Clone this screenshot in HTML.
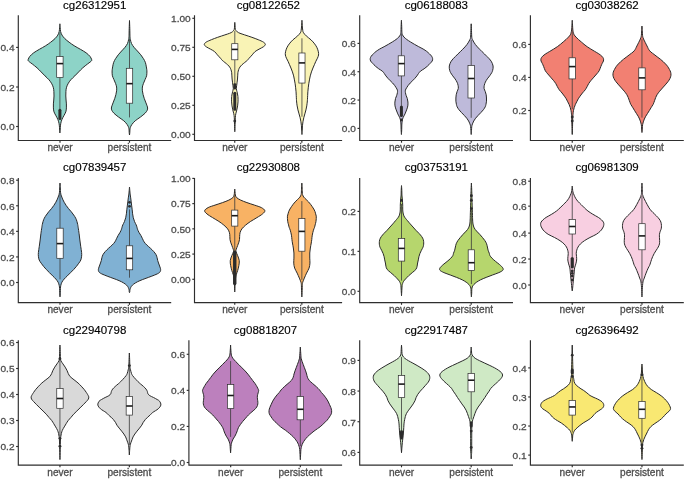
<!DOCTYPE html><html><head><meta charset="utf-8"><style>html,body{margin:0;padding:0;background:#fff;}svg{display:block;}text{font-family:"Liberation Sans",sans-serif;}svg{will-change:transform;}</style></head><body>
<svg xmlns="http://www.w3.org/2000/svg" width="685" height="479" viewBox="0 0 685 479">
<rect width="685" height="479" fill="#fff"/>
<g><path d="M59.90,23.80 C59.85,24.44 59.72,26.37 59.60,27.65 C59.48,28.93 59.50,30.26 59.20,31.50 C58.90,32.74 58.50,33.92 57.80,35.10 C57.10,36.28 56.18,37.42 55.00,38.60 C53.82,39.78 52.25,41.02 50.70,42.20 C49.15,43.38 47.58,44.52 45.70,45.70 C43.82,46.88 41.40,48.12 39.40,49.30 C37.40,50.48 35.30,51.62 33.70,52.80 C32.10,53.98 30.70,55.33 29.80,56.40 C28.90,57.47 28.58,58.52 28.30,59.20 C28.02,59.88 27.88,60.03 28.10,60.50 C28.32,60.97 28.90,61.42 29.60,62.00 C30.30,62.58 31.05,63.02 32.30,64.00 C33.55,64.98 35.63,66.58 37.10,67.90 C38.57,69.22 39.78,70.57 41.10,71.90 C42.42,73.23 43.68,74.58 45.00,75.90 C46.32,77.22 47.87,78.48 49.00,79.80 C50.13,81.12 51.07,82.47 51.80,83.80 C52.53,85.13 53.05,86.48 53.40,87.80 C53.75,89.12 53.80,90.33 53.90,91.70 C54.00,93.07 54.02,94.62 54.00,96.00 C53.97,97.38 53.85,98.68 53.75,100.00 C53.65,101.32 53.46,102.58 53.40,103.90 C53.34,105.22 53.30,106.57 53.40,107.90 C53.50,109.23 53.57,110.58 54.00,111.90 C54.43,113.22 55.33,114.48 56.00,115.80 C56.67,117.12 57.48,118.47 58.00,119.80 C58.52,121.13 58.85,122.48 59.10,123.80 C59.35,125.12 59.42,126.62 59.50,127.70 C59.58,128.78 59.53,129.43 59.60,130.30 C59.67,131.17 59.85,132.47 59.90,132.90 L59.90,132.90 C59.95,132.47 60.13,131.17 60.20,130.30 C60.27,129.43 60.22,128.78 60.30,127.70 C60.38,126.62 60.45,125.12 60.70,123.80 C60.95,122.48 61.28,121.13 61.80,119.80 C62.32,118.47 63.13,117.12 63.80,115.80 C64.47,114.48 65.37,113.22 65.80,111.90 C66.23,110.58 66.30,109.23 66.40,107.90 C66.50,106.57 66.46,105.22 66.40,103.90 C66.34,102.58 66.15,101.32 66.05,100.00 C65.95,98.68 65.82,97.38 65.80,96.00 C65.77,94.62 65.80,93.07 65.90,91.70 C66.00,90.33 66.05,89.12 66.40,87.80 C66.75,86.48 67.27,85.13 68.00,83.80 C68.73,82.47 69.67,81.12 70.80,79.80 C71.93,78.48 73.48,77.22 74.80,75.90 C76.12,74.58 77.38,73.23 78.70,71.90 C80.02,70.57 81.23,69.22 82.70,67.90 C84.17,66.58 86.25,64.98 87.50,64.00 C88.75,63.02 89.50,62.58 90.20,62.00 C90.90,61.42 91.48,60.97 91.70,60.50 C91.92,60.03 91.78,59.88 91.50,59.20 C91.22,58.52 90.90,57.47 90.00,56.40 C89.10,55.33 87.70,53.98 86.10,52.80 C84.50,51.62 82.40,50.48 80.40,49.30 C78.40,48.12 75.98,46.88 74.10,45.70 C72.22,44.52 70.65,43.38 69.10,42.20 C67.55,41.02 65.98,39.78 64.80,38.60 C63.62,37.42 62.70,36.28 62.00,35.10 C61.30,33.92 60.90,32.74 60.60,31.50 C60.30,30.26 60.32,28.93 60.20,27.65 C60.08,26.37 59.95,24.44 59.90,23.80 Z" fill="#8DD3C7" stroke="#2a2a2a" stroke-width="1.0" stroke-linejoin="round"/><path d="M129.50,20.50 C129.45,21.86 129.28,25.93 129.20,28.65 C129.12,31.37 129.11,34.94 129.00,36.80 C128.89,38.66 128.80,38.68 128.55,39.80 C128.30,40.92 128.09,42.25 127.50,43.50 C126.91,44.75 125.98,46.05 125.00,47.30 C124.02,48.55 122.72,49.75 121.60,51.00 C120.47,52.25 119.25,53.53 118.25,54.80 C117.25,56.07 116.36,57.35 115.60,58.60 C114.84,59.85 114.17,61.05 113.70,62.30 C113.23,63.55 113.05,64.85 112.80,66.10 C112.55,67.35 112.32,68.82 112.20,69.80 C112.08,70.78 112.07,71.00 112.10,72.00 C112.13,73.00 112.10,74.55 112.40,75.80 C112.70,77.05 113.38,78.25 113.90,79.50 C114.42,80.75 115.05,82.05 115.50,83.30 C115.95,84.55 116.42,85.75 116.60,87.00 C116.78,88.25 116.72,89.53 116.60,90.80 C116.48,92.07 116.20,93.35 115.90,94.60 C115.60,95.85 115.22,97.05 114.80,98.30 C114.38,99.55 113.82,100.85 113.35,102.10 C112.88,103.35 112.28,104.82 111.95,105.80 C111.62,106.78 111.43,107.25 111.40,108.00 C111.38,108.75 111.37,109.42 111.80,110.30 C112.23,111.18 112.88,112.18 114.00,113.30 C115.12,114.42 116.87,115.75 118.50,117.00 C120.13,118.25 122.35,119.53 123.80,120.80 C125.25,122.07 126.38,123.47 127.20,124.60 C128.02,125.73 128.38,126.70 128.70,127.60 C129.02,128.50 129.02,129.18 129.10,130.00 C129.18,130.82 129.13,131.67 129.20,132.50 C129.27,133.33 129.45,134.58 129.50,135.00 L129.50,135.00 C129.55,134.58 129.73,133.33 129.80,132.50 C129.87,131.67 129.82,130.82 129.90,130.00 C129.98,129.18 129.98,128.50 130.30,127.60 C130.62,126.70 130.98,125.73 131.80,124.60 C132.62,123.47 133.75,122.07 135.20,120.80 C136.65,119.53 138.87,118.25 140.50,117.00 C142.13,115.75 143.88,114.42 145.00,113.30 C146.12,112.18 146.77,111.18 147.20,110.30 C147.63,109.42 147.62,108.75 147.60,108.00 C147.57,107.25 147.38,106.78 147.05,105.80 C146.73,104.82 146.12,103.35 145.65,102.10 C145.18,100.85 144.62,99.55 144.20,98.30 C143.77,97.05 143.40,95.85 143.10,94.60 C142.80,93.35 142.52,92.07 142.40,90.80 C142.28,89.53 142.22,88.25 142.40,87.00 C142.58,85.75 143.05,84.55 143.50,83.30 C143.95,82.05 144.58,80.75 145.10,79.50 C145.62,78.25 146.30,77.05 146.60,75.80 C146.90,74.55 146.87,73.00 146.90,72.00 C146.93,71.00 146.92,70.78 146.80,69.80 C146.68,68.82 146.45,67.35 146.20,66.10 C145.95,64.85 145.77,63.55 145.30,62.30 C144.83,61.05 144.16,59.85 143.40,58.60 C142.64,57.35 141.75,56.07 140.75,54.80 C139.75,53.53 138.53,52.25 137.40,51.00 C136.28,49.75 134.98,48.55 134.00,47.30 C133.02,46.05 132.09,44.75 131.50,43.50 C130.91,42.25 130.70,40.92 130.45,39.80 C130.20,38.68 130.11,38.66 130.00,36.80 C129.89,34.94 129.88,31.37 129.80,28.65 C129.72,25.93 129.55,21.86 129.50,20.50 Z" fill="#8DD3C7" stroke="#2a2a2a" stroke-width="1.0" stroke-linejoin="round"/><line x1="59.90" y1="32.50" x2="59.90" y2="56.60" stroke="#3a3a3a" stroke-width="0.8"/><line x1="59.90" y1="77.50" x2="59.90" y2="109.00" stroke="#3a3a3a" stroke-width="0.8"/><rect x="56.70" y="56.60" width="6.39" height="20.90" fill="#fff" stroke="#2a2a2a" stroke-width="0.7"/><line x1="56.70" y1="63.60" x2="63.10" y2="63.60" stroke="#1a1a1a" stroke-width="1.6"/><line x1="59.90" y1="110.30" x2="59.90" y2="118.50" stroke="#2b2b2b" stroke-width="3.00" stroke-linecap="round"/><line x1="129.50" y1="38.70" x2="129.50" y2="68.30" stroke="#3a3a3a" stroke-width="0.8"/><line x1="129.50" y1="103.20" x2="129.50" y2="117.40" stroke="#3a3a3a" stroke-width="0.8"/><rect x="126.30" y="68.30" width="6.39" height="34.90" fill="#fff" stroke="#2a2a2a" stroke-width="0.7"/><line x1="126.30" y1="83.65" x2="132.70" y2="83.65" stroke="#1a1a1a" stroke-width="1.6"/><path d="M18.30,15.20 V140.50 H171.20" fill="none" stroke="#2e2e2e" stroke-width="1.15"/><line x1="16.10" y1="47.40" x2="18.30" y2="47.40" stroke="#2e2e2e" stroke-width="1.15"/><text transform="translate(14.50,51.20) scale(1,0.96)" font-size="10.1" fill="#4D4D4D" stroke="#4D4D4D" stroke-width="0.3" text-anchor="end">0.4</text><line x1="16.10" y1="87.00" x2="18.30" y2="87.00" stroke="#2e2e2e" stroke-width="1.15"/><text transform="translate(14.50,90.80) scale(1,0.96)" font-size="10.1" fill="#4D4D4D" stroke="#4D4D4D" stroke-width="0.3" text-anchor="end">0.2</text><line x1="16.10" y1="126.50" x2="18.30" y2="126.50" stroke="#2e2e2e" stroke-width="1.15"/><text transform="translate(14.50,130.30) scale(1,0.96)" font-size="10.1" fill="#4D4D4D" stroke="#4D4D4D" stroke-width="0.3" text-anchor="end">0.0</text><line x1="60.00" y1="140.50" x2="60.00" y2="142.70" stroke="#2e2e2e" stroke-width="1.15"/><text x="60.00" y="151.20" font-size="10.1" fill="#4D4D4D" stroke="#4D4D4D" stroke-width="0.3" text-anchor="middle">never</text><line x1="129.50" y1="140.50" x2="129.50" y2="142.70" stroke="#2e2e2e" stroke-width="1.15"/><text x="129.50" y="151.20" font-size="10.1" fill="#4D4D4D" stroke="#4D4D4D" stroke-width="0.3" text-anchor="middle">persistent</text><text x="94.75" y="8.90" font-size="11.5" fill="#000" stroke="#000" stroke-width="0.15" text-anchor="middle">cg26312951</text></g>
<g><path d="M234.80,22.40 C234.75,22.98 234.60,24.73 234.50,25.90 C234.41,27.07 234.60,28.42 234.25,29.40 C233.90,30.38 233.18,31.15 232.40,31.80 C231.63,32.45 230.85,32.78 229.60,33.30 C228.35,33.82 226.89,34.23 224.90,34.90 C222.92,35.57 219.95,36.50 217.70,37.30 C215.45,38.10 213.32,38.90 211.40,39.70 C209.49,40.50 207.40,41.30 206.20,42.10 C205.01,42.90 204.25,43.72 204.25,44.50 C204.26,45.28 205.20,46.02 206.25,46.80 C207.31,47.58 209.22,48.40 210.60,49.20 C211.99,50.00 213.43,50.67 214.55,51.60 C215.68,52.53 216.30,53.62 217.35,54.80 C218.41,55.98 220.10,57.78 220.90,58.70 C221.71,59.62 221.54,59.67 222.20,60.30 C222.87,60.93 223.99,61.75 224.90,62.50 C225.82,63.25 226.90,64.03 227.70,64.80 C228.50,65.57 229.17,66.32 229.70,67.10 C230.24,67.88 230.57,68.57 230.90,69.50 C231.24,70.43 231.54,71.63 231.70,72.70 C231.87,73.77 231.84,74.85 231.90,75.90 C231.97,76.95 232.00,77.95 232.10,79.00 C232.20,80.05 232.37,81.13 232.50,82.20 C232.64,83.27 232.77,84.33 232.90,85.40 C233.04,86.47 233.35,87.55 233.30,88.60 C233.25,89.65 232.84,90.63 232.60,91.70 C232.37,92.77 232.07,93.95 231.90,95.00 C231.74,96.05 231.65,96.85 231.60,98.00 C231.55,99.15 231.54,100.58 231.60,101.90 C231.67,103.22 231.80,104.57 232.00,105.90 C232.20,107.23 232.50,108.58 232.80,109.90 C233.10,111.22 233.55,112.48 233.80,113.80 C234.05,115.12 234.19,115.97 234.30,117.80 C234.42,119.62 234.42,122.43 234.50,124.75 C234.59,127.07 234.75,130.54 234.80,131.70 L234.80,131.70 C234.85,130.54 235.02,127.07 235.10,124.75 C235.19,122.43 235.19,119.62 235.30,117.80 C235.42,115.97 235.55,115.12 235.80,113.80 C236.05,112.48 236.50,111.22 236.80,109.90 C237.10,108.58 237.40,107.23 237.60,105.90 C237.80,104.57 237.94,103.22 238.00,101.90 C238.07,100.58 238.05,99.15 238.00,98.00 C237.95,96.85 237.87,96.05 237.70,95.00 C237.54,93.95 237.24,92.77 237.00,91.70 C236.77,90.63 236.35,89.65 236.30,88.60 C236.25,87.55 236.57,86.47 236.70,85.40 C236.84,84.33 236.97,83.27 237.10,82.20 C237.24,81.13 237.40,80.05 237.50,79.00 C237.60,77.95 237.64,76.95 237.70,75.90 C237.77,74.85 237.74,73.77 237.90,72.70 C238.07,71.63 238.37,70.43 238.70,69.50 C239.04,68.57 239.37,67.88 239.90,67.10 C240.44,66.32 241.10,65.57 241.90,64.80 C242.70,64.03 243.79,63.25 244.70,62.50 C245.62,61.75 246.74,60.93 247.40,60.30 C248.07,59.67 247.90,59.62 248.70,58.70 C249.51,57.78 251.20,55.98 252.25,54.80 C253.31,53.62 253.93,52.53 255.05,51.60 C256.18,50.67 257.62,50.00 259.00,49.20 C260.39,48.40 262.30,47.58 263.35,46.80 C264.41,46.02 265.35,45.28 265.35,44.50 C265.36,43.72 264.60,42.90 263.40,42.10 C262.21,41.30 260.12,40.50 258.20,39.70 C256.29,38.90 254.15,38.10 251.90,37.30 C249.65,36.50 246.69,35.57 244.70,34.90 C242.72,34.23 241.25,33.82 240.00,33.30 C238.75,32.78 237.98,32.45 237.20,31.80 C236.43,31.15 235.70,30.38 235.35,29.40 C235.00,28.42 235.20,27.07 235.10,25.90 C235.01,24.73 234.85,22.98 234.80,22.40 Z" fill="#F9F3B5" stroke="#2a2a2a" stroke-width="1.0" stroke-linejoin="round"/><path d="M301.95,20.30 C301.90,21.14 301.78,23.67 301.65,25.35 C301.51,27.03 301.36,29.16 301.15,30.40 C300.93,31.64 300.93,31.88 300.35,32.80 C299.76,33.72 298.90,34.72 297.65,35.90 C296.40,37.08 294.25,38.57 292.85,39.90 C291.45,41.23 290.25,42.58 289.25,43.90 C288.25,45.22 287.46,46.48 286.85,47.80 C286.23,49.12 285.80,50.60 285.55,51.80 C285.30,53.00 285.20,53.93 285.35,55.00 C285.50,56.07 286.00,57.15 286.45,58.20 C286.90,59.25 287.56,60.28 288.05,61.30 C288.53,62.32 288.86,63.18 289.35,64.30 C289.83,65.42 290.43,66.73 290.95,68.00 C291.46,69.27 292.00,70.58 292.45,71.90 C292.90,73.22 293.31,74.57 293.65,75.90 C293.98,77.23 294.20,78.58 294.45,79.90 C294.70,81.22 294.95,82.48 295.15,83.80 C295.35,85.12 295.50,86.47 295.65,87.80 C295.80,89.13 295.95,90.48 296.05,91.80 C296.15,93.12 296.18,94.38 296.25,95.70 C296.31,97.02 296.38,98.65 296.45,99.70 C296.51,100.75 296.53,100.97 296.65,102.00 C296.76,103.03 296.93,104.58 297.15,105.90 C297.36,107.22 297.63,108.57 297.95,109.90 C298.26,111.23 298.68,112.58 299.05,113.90 C299.41,115.22 299.83,116.48 300.15,117.80 C300.46,119.12 300.73,120.47 300.95,121.80 C301.16,123.13 301.33,124.41 301.45,125.80 C301.56,127.19 301.56,128.70 301.65,130.15 C301.73,131.60 301.90,133.78 301.95,134.50 L301.95,134.50 C302.00,133.78 302.16,131.60 302.25,130.15 C302.33,128.70 302.33,127.19 302.45,125.80 C302.56,124.41 302.73,123.13 302.95,121.80 C303.16,120.47 303.43,119.12 303.75,117.80 C304.06,116.48 304.48,115.22 304.85,113.90 C305.21,112.58 305.63,111.23 305.95,109.90 C306.26,108.57 306.53,107.22 306.75,105.90 C306.96,104.58 307.13,103.03 307.25,102.00 C307.36,100.97 307.38,100.75 307.45,99.70 C307.51,98.65 307.58,97.02 307.65,95.70 C307.71,94.38 307.75,93.12 307.85,91.80 C307.95,90.48 308.10,89.13 308.25,87.80 C308.40,86.47 308.55,85.12 308.75,83.80 C308.95,82.48 309.20,81.22 309.45,79.90 C309.70,78.58 309.91,77.23 310.25,75.90 C310.58,74.57 311.00,73.22 311.45,71.90 C311.90,70.58 312.43,69.27 312.95,68.00 C313.46,66.73 314.06,65.42 314.55,64.30 C315.03,63.18 315.36,62.32 315.85,61.30 C316.33,60.28 317.00,59.25 317.45,58.20 C317.90,57.15 318.40,56.07 318.55,55.00 C318.70,53.93 318.60,53.00 318.35,51.80 C318.10,50.60 317.66,49.12 317.05,47.80 C316.43,46.48 315.65,45.22 314.65,43.90 C313.65,42.58 312.45,41.23 311.05,39.90 C309.65,38.57 307.50,37.08 306.25,35.90 C305.00,34.72 304.13,33.72 303.55,32.80 C302.96,31.88 302.96,31.64 302.75,30.40 C302.53,29.16 302.38,27.03 302.25,25.35 C302.11,23.67 302.00,21.14 301.95,20.30 Z" fill="#F9F3B5" stroke="#2a2a2a" stroke-width="1.0" stroke-linejoin="round"/><line x1="234.80" y1="31.00" x2="234.80" y2="43.70" stroke="#3a3a3a" stroke-width="0.8"/><line x1="234.80" y1="59.80" x2="234.80" y2="83.00" stroke="#3a3a3a" stroke-width="0.8"/><rect x="231.72" y="43.70" width="6.17" height="16.10" fill="#fff" stroke="#2a2a2a" stroke-width="0.7"/><line x1="231.72" y1="49.40" x2="237.89" y2="49.40" stroke="#1a1a1a" stroke-width="1.6"/><line x1="234.80" y1="84.50" x2="234.80" y2="88.00" stroke="#2b2b2b" stroke-width="3.00" stroke-linecap="round"/><line x1="234.80" y1="93.30" x2="234.80" y2="109.30" stroke="#2b2b2b" stroke-width="3.00" stroke-linecap="round"/><circle cx="234.80" cy="121.10" r="1.4" fill="#2b2b2b"/><line x1="301.95" y1="38.30" x2="301.95" y2="53.00" stroke="#3a3a3a" stroke-width="0.8"/><line x1="301.95" y1="83.05" x2="301.95" y2="116.70" stroke="#3a3a3a" stroke-width="0.8"/><rect x="298.86" y="53.00" width="6.17" height="30.05" fill="#fff" stroke="#2a2a2a" stroke-width="0.7"/><line x1="298.86" y1="62.90" x2="305.03" y2="62.90" stroke="#1a1a1a" stroke-width="1.6"/><path d="M194.50,15.20 V140.50 H342.10" fill="none" stroke="#2e2e2e" stroke-width="1.15"/><line x1="192.30" y1="18.30" x2="194.50" y2="18.30" stroke="#2e2e2e" stroke-width="1.15"/><text transform="translate(190.70,22.10) scale(1,0.96)" font-size="10.1" fill="#4D4D4D" stroke="#4D4D4D" stroke-width="0.3" text-anchor="end">1.00</text><line x1="192.30" y1="47.30" x2="194.50" y2="47.30" stroke="#2e2e2e" stroke-width="1.15"/><text transform="translate(190.70,51.10) scale(1,0.96)" font-size="10.1" fill="#4D4D4D" stroke="#4D4D4D" stroke-width="0.3" text-anchor="end">0.75</text><line x1="192.30" y1="76.30" x2="194.50" y2="76.30" stroke="#2e2e2e" stroke-width="1.15"/><text transform="translate(190.70,80.10) scale(1,0.96)" font-size="10.1" fill="#4D4D4D" stroke="#4D4D4D" stroke-width="0.3" text-anchor="end">0.50</text><line x1="192.30" y1="105.30" x2="194.50" y2="105.30" stroke="#2e2e2e" stroke-width="1.15"/><text transform="translate(190.70,109.10) scale(1,0.96)" font-size="10.1" fill="#4D4D4D" stroke="#4D4D4D" stroke-width="0.3" text-anchor="end">0.25</text><line x1="192.30" y1="134.30" x2="194.50" y2="134.30" stroke="#2e2e2e" stroke-width="1.15"/><text transform="translate(190.70,138.10) scale(1,0.96)" font-size="10.1" fill="#4D4D4D" stroke="#4D4D4D" stroke-width="0.3" text-anchor="end">0.00</text><line x1="234.75" y1="140.50" x2="234.75" y2="142.70" stroke="#2e2e2e" stroke-width="1.15"/><text x="234.75" y="151.20" font-size="10.1" fill="#4D4D4D" stroke="#4D4D4D" stroke-width="0.3" text-anchor="middle">never</text><line x1="301.85" y1="140.50" x2="301.85" y2="142.70" stroke="#2e2e2e" stroke-width="1.15"/><text x="301.85" y="151.20" font-size="10.1" fill="#4D4D4D" stroke="#4D4D4D" stroke-width="0.3" text-anchor="middle">persistent</text><text x="268.30" y="8.90" font-size="11.5" fill="#000" stroke="#000" stroke-width="0.15" text-anchor="middle">cg08122652</text></g>
<g><path d="M401.41,20.30 C401.36,21.31 401.19,24.33 401.11,26.35 C401.03,28.37 401.04,30.99 400.91,32.40 C400.78,33.81 400.66,34.02 400.31,34.80 C399.96,35.58 399.53,36.32 398.81,37.10 C398.09,37.88 397.08,38.70 396.01,39.50 C394.94,40.30 393.68,41.10 392.41,41.90 C391.14,42.70 389.79,43.50 388.41,44.30 C387.03,45.10 385.56,45.92 384.11,46.70 C382.66,47.48 381.04,48.22 379.71,49.00 C378.38,49.78 377.16,50.60 376.11,51.40 C375.06,52.20 374.23,53.00 373.41,53.80 C372.59,54.60 371.74,55.40 371.21,56.20 C370.68,57.00 370.31,57.80 370.21,58.60 C370.11,59.40 370.21,60.22 370.61,61.00 C371.01,61.78 371.81,62.43 372.61,63.30 C373.41,64.17 374.39,65.28 375.41,66.20 C376.43,67.12 377.56,67.98 378.71,68.80 C379.86,69.62 381.38,70.32 382.31,71.10 C383.24,71.88 383.71,72.70 384.31,73.50 C384.91,74.30 385.31,75.10 385.91,75.90 C386.51,76.70 387.19,77.50 387.91,78.30 C388.63,79.10 389.43,79.92 390.21,80.70 C390.99,81.48 391.88,82.22 392.61,83.00 C393.34,83.78 394.01,84.60 394.61,85.40 C395.21,86.20 395.74,87.00 396.21,87.80 C396.68,88.60 397.21,89.40 397.41,90.20 C397.61,91.00 397.54,91.68 397.41,92.60 C397.28,93.52 396.93,94.72 396.61,95.70 C396.29,96.68 395.79,97.45 395.51,98.50 C395.23,99.55 394.99,100.77 394.91,102.00 C394.83,103.23 394.79,104.58 395.01,105.90 C395.23,107.22 395.74,108.57 396.21,109.90 C396.68,111.23 397.21,112.58 397.81,113.90 C398.41,115.22 399.34,116.62 399.81,117.80 C400.28,118.98 400.41,119.80 400.61,121.00 C400.81,122.20 400.93,123.54 401.01,125.00 C401.09,126.46 401.04,128.17 401.11,129.75 C401.18,131.33 401.36,133.71 401.41,134.50 L401.41,134.50 C401.46,133.71 401.64,131.33 401.71,129.75 C401.78,128.17 401.73,126.46 401.81,125.00 C401.89,123.54 402.01,122.20 402.21,121.00 C402.41,119.80 402.54,118.98 403.01,117.80 C403.48,116.62 404.41,115.22 405.01,113.90 C405.61,112.58 406.14,111.23 406.61,109.90 C407.08,108.57 407.59,107.22 407.81,105.90 C408.03,104.58 407.99,103.23 407.91,102.00 C407.83,100.77 407.59,99.55 407.31,98.50 C407.03,97.45 406.53,96.68 406.21,95.70 C405.89,94.72 405.54,93.52 405.41,92.60 C405.28,91.68 405.21,91.00 405.41,90.20 C405.61,89.40 406.14,88.60 406.61,87.80 C407.08,87.00 407.61,86.20 408.21,85.40 C408.81,84.60 409.48,83.78 410.21,83.00 C410.94,82.22 411.83,81.48 412.61,80.70 C413.39,79.92 414.19,79.10 414.91,78.30 C415.63,77.50 416.31,76.70 416.91,75.90 C417.51,75.10 417.91,74.30 418.51,73.50 C419.11,72.70 419.58,71.88 420.51,71.10 C421.44,70.32 422.96,69.62 424.11,68.80 C425.26,67.98 426.39,67.12 427.41,66.20 C428.43,65.28 429.41,64.17 430.21,63.30 C431.01,62.43 431.81,61.78 432.21,61.00 C432.61,60.22 432.71,59.40 432.61,58.60 C432.51,57.80 432.14,57.00 431.61,56.20 C431.08,55.40 430.23,54.60 429.41,53.80 C428.59,53.00 427.76,52.20 426.71,51.40 C425.66,50.60 424.44,49.78 423.11,49.00 C421.78,48.22 420.16,47.48 418.71,46.70 C417.26,45.92 415.79,45.10 414.41,44.30 C413.03,43.50 411.68,42.70 410.41,41.90 C409.14,41.10 407.88,40.30 406.81,39.50 C405.74,38.70 404.73,37.88 404.01,37.10 C403.29,36.32 402.86,35.58 402.51,34.80 C402.16,34.02 402.04,33.81 401.91,32.40 C401.78,30.99 401.79,28.37 401.71,26.35 C401.63,24.33 401.46,21.31 401.41,20.30 Z" fill="#BEBADA" stroke="#2a2a2a" stroke-width="1.0" stroke-linejoin="round"/><path d="M471.19,23.80 C471.14,24.93 470.99,28.33 470.89,30.60 C470.79,32.87 470.77,35.87 470.59,37.40 C470.41,38.93 470.12,39.02 469.79,39.80 C469.46,40.58 469.06,41.32 468.59,42.10 C468.12,42.88 467.59,43.70 466.99,44.50 C466.39,45.30 465.71,46.10 464.99,46.90 C464.27,47.70 463.47,48.50 462.69,49.30 C461.91,50.10 461.09,50.92 460.29,51.70 C459.49,52.48 458.69,53.22 457.89,54.00 C457.09,54.78 456.29,55.60 455.49,56.40 C454.69,57.20 453.81,58.00 453.09,58.80 C452.37,59.60 451.71,60.40 451.19,61.20 C450.67,62.00 450.31,62.80 449.99,63.60 C449.67,64.40 449.41,65.22 449.29,66.00 C449.17,66.78 449.21,67.52 449.29,68.30 C449.37,69.08 449.57,69.98 449.79,70.70 C450.01,71.42 450.11,71.75 450.59,72.60 C451.07,73.45 451.94,74.75 452.69,75.80 C453.44,76.85 454.37,77.85 455.09,78.90 C455.81,79.95 456.49,81.03 456.99,82.10 C457.49,83.17 457.87,84.23 458.09,85.30 C458.31,86.37 458.46,87.45 458.29,88.50 C458.12,89.55 457.44,90.55 457.09,91.60 C456.74,92.65 456.39,93.73 456.19,94.80 C455.99,95.87 455.94,96.93 455.89,98.00 C455.84,99.07 455.81,100.15 455.89,101.20 C455.97,102.25 456.18,103.37 456.39,104.30 C456.60,105.23 456.72,105.90 457.14,106.80 C457.57,107.70 458.22,108.75 458.94,109.70 C459.66,110.65 460.56,111.55 461.44,112.50 C462.32,113.45 463.36,114.45 464.24,115.40 C465.12,116.35 466.01,117.27 466.74,118.20 C467.47,119.13 468.11,120.05 468.64,121.00 C469.17,121.95 469.61,122.95 469.94,123.90 C470.27,124.85 470.48,125.58 470.64,126.70 C470.80,127.82 470.80,129.30 470.89,130.60 C470.98,131.90 471.14,133.85 471.19,134.50 L471.19,134.50 C471.24,133.85 471.40,131.90 471.49,130.60 C471.58,129.30 471.58,127.82 471.74,126.70 C471.90,125.58 472.11,124.85 472.44,123.90 C472.77,122.95 473.21,121.95 473.74,121.00 C474.27,120.05 474.91,119.13 475.64,118.20 C476.37,117.27 477.26,116.35 478.14,115.40 C479.02,114.45 480.06,113.45 480.94,112.50 C481.82,111.55 482.72,110.65 483.44,109.70 C484.16,108.75 484.82,107.70 485.24,106.80 C485.67,105.90 485.78,105.23 485.99,104.30 C486.20,103.37 486.41,102.25 486.49,101.20 C486.57,100.15 486.54,99.07 486.49,98.00 C486.44,96.93 486.39,95.87 486.19,94.80 C485.99,93.73 485.64,92.65 485.29,91.60 C484.94,90.55 484.26,89.55 484.09,88.50 C483.92,87.45 484.07,86.37 484.29,85.30 C484.51,84.23 484.89,83.17 485.39,82.10 C485.89,81.03 486.57,79.95 487.29,78.90 C488.01,77.85 488.94,76.85 489.69,75.80 C490.44,74.75 491.31,73.45 491.79,72.60 C492.27,71.75 492.37,71.42 492.59,70.70 C492.81,69.98 493.01,69.08 493.09,68.30 C493.17,67.52 493.21,66.78 493.09,66.00 C492.97,65.22 492.71,64.40 492.39,63.60 C492.07,62.80 491.71,62.00 491.19,61.20 C490.67,60.40 490.01,59.60 489.29,58.80 C488.57,58.00 487.69,57.20 486.89,56.40 C486.09,55.60 485.29,54.78 484.49,54.00 C483.69,53.22 482.89,52.48 482.09,51.70 C481.29,50.92 480.47,50.10 479.69,49.30 C478.91,48.50 478.11,47.70 477.39,46.90 C476.67,46.10 475.99,45.30 475.39,44.50 C474.79,43.70 474.26,42.88 473.79,42.10 C473.32,41.32 472.92,40.58 472.59,39.80 C472.26,39.02 471.97,38.93 471.79,37.40 C471.61,35.87 471.59,32.87 471.49,30.60 C471.39,28.33 471.24,24.93 471.19,23.80 Z" fill="#BEBADA" stroke="#2a2a2a" stroke-width="1.0" stroke-linejoin="round"/><line x1="401.41" y1="33.50" x2="401.41" y2="55.80" stroke="#3a3a3a" stroke-width="0.8"/><line x1="401.41" y1="75.90" x2="401.41" y2="105.90" stroke="#3a3a3a" stroke-width="0.8"/><rect x="398.20" y="55.80" width="6.41" height="20.10" fill="#fff" stroke="#2a2a2a" stroke-width="0.7"/><line x1="398.20" y1="63.60" x2="404.61" y2="63.60" stroke="#1a1a1a" stroke-width="1.6"/><line x1="401.41" y1="107.00" x2="401.41" y2="115.50" stroke="#2b2b2b" stroke-width="3.00" stroke-linecap="round"/><circle cx="401.41" cy="119.80" r="1.4" fill="#2b2b2b"/><line x1="471.19" y1="39.80" x2="471.19" y2="65.40" stroke="#3a3a3a" stroke-width="0.8"/><line x1="471.19" y1="98.00" x2="471.19" y2="117.80" stroke="#3a3a3a" stroke-width="0.8"/><rect x="467.99" y="65.40" width="6.41" height="32.60" fill="#fff" stroke="#2a2a2a" stroke-width="0.7"/><line x1="467.99" y1="78.50" x2="474.40" y2="78.50" stroke="#1a1a1a" stroke-width="1.6"/><path d="M359.70,15.20 V140.50 H513.00" fill="none" stroke="#2e2e2e" stroke-width="1.15"/><line x1="357.50" y1="43.40" x2="359.70" y2="43.40" stroke="#2e2e2e" stroke-width="1.15"/><text transform="translate(355.90,47.20) scale(1,0.96)" font-size="10.1" fill="#4D4D4D" stroke="#4D4D4D" stroke-width="0.3" text-anchor="end">0.6</text><line x1="357.50" y1="71.73" x2="359.70" y2="71.73" stroke="#2e2e2e" stroke-width="1.15"/><text transform="translate(355.90,75.53) scale(1,0.96)" font-size="10.1" fill="#4D4D4D" stroke="#4D4D4D" stroke-width="0.3" text-anchor="end">0.4</text><line x1="357.50" y1="100.07" x2="359.70" y2="100.07" stroke="#2e2e2e" stroke-width="1.15"/><text transform="translate(355.90,103.87) scale(1,0.96)" font-size="10.1" fill="#4D4D4D" stroke="#4D4D4D" stroke-width="0.3" text-anchor="end">0.2</text><line x1="357.50" y1="128.40" x2="359.70" y2="128.40" stroke="#2e2e2e" stroke-width="1.15"/><text transform="translate(355.90,132.20) scale(1,0.96)" font-size="10.1" fill="#4D4D4D" stroke="#4D4D4D" stroke-width="0.3" text-anchor="end">0.0</text><line x1="401.51" y1="140.50" x2="401.51" y2="142.70" stroke="#2e2e2e" stroke-width="1.15"/><text x="401.51" y="151.20" font-size="10.1" fill="#4D4D4D" stroke="#4D4D4D" stroke-width="0.3" text-anchor="middle">never</text><line x1="471.19" y1="140.50" x2="471.19" y2="142.70" stroke="#2e2e2e" stroke-width="1.15"/><text x="471.19" y="151.20" font-size="10.1" fill="#4D4D4D" stroke="#4D4D4D" stroke-width="0.3" text-anchor="middle">persistent</text><text x="436.35" y="8.90" font-size="11.5" fill="#000" stroke="#000" stroke-width="0.15" text-anchor="middle">cg06188083</text></g>
<g><path d="M572.24,20.30 C572.19,21.11 572.04,23.53 571.94,25.15 C571.84,26.77 571.77,28.79 571.64,30.00 C571.50,31.21 571.35,31.60 571.14,32.40 C570.92,33.20 570.79,34.02 570.34,34.80 C569.89,35.58 569.15,36.32 568.44,37.10 C567.72,37.88 566.90,38.70 566.04,39.50 C565.17,40.30 564.17,41.10 563.24,41.90 C562.30,42.70 561.42,43.50 560.44,44.30 C559.45,45.10 558.45,45.92 557.34,46.70 C556.22,47.48 555.00,48.22 553.74,49.00 C552.47,49.78 551.07,50.60 549.74,51.40 C548.40,52.20 546.92,53.00 545.74,53.80 C544.55,54.60 543.42,55.40 542.64,56.20 C541.85,57.00 541.30,57.80 541.04,58.60 C540.77,59.40 540.84,60.22 541.04,61.00 C541.24,61.78 541.80,62.38 542.24,63.30 C542.67,64.22 543.12,65.25 543.64,66.50 C544.15,67.75 544.65,69.57 545.34,70.80 C546.02,72.03 546.87,72.85 547.74,73.90 C548.60,74.95 549.60,76.03 550.54,77.10 C551.47,78.17 552.47,79.23 553.34,80.30 C554.20,81.37 555.07,82.45 555.74,83.50 C556.40,84.55 556.75,85.55 557.34,86.60 C557.92,87.65 558.45,88.73 559.24,89.80 C560.02,90.87 561.17,91.93 562.04,93.00 C562.90,94.07 563.74,95.23 564.44,96.20 C565.14,97.17 565.74,97.97 566.24,98.80 C566.74,99.63 566.97,100.28 567.44,101.20 C567.90,102.12 568.57,103.25 569.04,104.30 C569.50,105.35 569.90,106.43 570.24,107.50 C570.57,108.57 570.84,109.63 571.04,110.70 C571.24,111.77 571.32,112.68 571.44,113.90 C571.55,115.12 571.65,115.94 571.74,118.00 C571.82,120.06 571.85,123.50 571.94,126.25 C572.02,129.00 572.19,133.12 572.24,134.50 L572.24,134.50 C572.29,133.12 572.45,129.00 572.54,126.25 C572.62,123.50 572.65,120.06 572.74,118.00 C572.82,115.94 572.92,115.12 573.04,113.90 C573.15,112.68 573.24,111.77 573.44,110.70 C573.64,109.63 573.90,108.57 574.24,107.50 C574.57,106.43 574.97,105.35 575.44,104.30 C575.90,103.25 576.57,102.12 577.04,101.20 C577.50,100.28 577.74,99.63 578.24,98.80 C578.74,97.97 579.34,97.17 580.04,96.20 C580.74,95.23 581.57,94.07 582.44,93.00 C583.30,91.93 584.45,90.87 585.24,89.80 C586.02,88.73 586.55,87.65 587.14,86.60 C587.72,85.55 588.07,84.55 588.74,83.50 C589.40,82.45 590.27,81.37 591.14,80.30 C592.00,79.23 593.00,78.17 593.94,77.10 C594.87,76.03 595.87,74.95 596.74,73.90 C597.60,72.85 598.45,72.03 599.14,70.80 C599.82,69.57 600.32,67.75 600.84,66.50 C601.35,65.25 601.80,64.22 602.24,63.30 C602.67,62.38 603.24,61.78 603.44,61.00 C603.64,60.22 603.70,59.40 603.44,58.60 C603.17,57.80 602.62,57.00 601.84,56.20 C601.05,55.40 599.92,54.60 598.74,53.80 C597.55,53.00 596.07,52.20 594.74,51.40 C593.40,50.60 592.00,49.78 590.74,49.00 C589.47,48.22 588.25,47.48 587.14,46.70 C586.02,45.92 585.02,45.10 584.04,44.30 C583.05,43.50 582.17,42.70 581.24,41.90 C580.30,41.10 579.30,40.30 578.44,39.50 C577.57,38.70 576.75,37.88 576.04,37.10 C575.32,36.32 574.59,35.58 574.14,34.80 C573.69,34.02 573.55,33.20 573.34,32.40 C573.12,31.60 572.97,31.21 572.84,30.00 C572.70,28.79 572.64,26.77 572.54,25.15 C572.44,23.53 572.29,21.11 572.24,20.30 Z" fill="#F28072" stroke="#2a2a2a" stroke-width="1.0" stroke-linejoin="round"/><path d="M641.96,26.00 C641.91,26.78 641.76,29.13 641.66,30.70 C641.56,32.27 641.50,34.22 641.36,35.40 C641.23,36.58 641.11,37.02 640.86,37.80 C640.61,38.58 640.23,39.32 639.86,40.10 C639.50,40.88 639.06,41.70 638.66,42.50 C638.26,43.30 637.86,44.10 637.46,44.90 C637.06,45.70 636.66,46.50 636.26,47.30 C635.86,48.10 635.60,48.92 635.06,49.70 C634.53,50.48 633.93,51.22 633.06,52.00 C632.20,52.78 630.91,53.60 629.86,54.40 C628.81,55.20 627.81,56.00 626.76,56.80 C625.71,57.60 624.56,58.40 623.56,59.20 C622.56,60.00 621.63,60.80 620.76,61.60 C619.90,62.40 619.10,63.22 618.36,64.00 C617.63,64.78 617.01,65.38 616.36,66.30 C615.71,67.22 614.98,68.52 614.46,69.50 C613.95,70.48 613.51,71.23 613.26,72.20 C613.01,73.17 612.85,74.25 612.96,75.30 C613.08,76.35 613.46,77.43 613.96,78.50 C614.46,79.57 615.18,80.63 615.96,81.70 C616.75,82.77 617.75,83.85 618.66,84.90 C619.58,85.95 620.53,86.95 621.46,88.00 C622.40,89.05 623.40,90.13 624.26,91.20 C625.13,92.27 626.00,93.33 626.66,94.40 C627.33,95.47 627.81,96.55 628.26,97.60 C628.71,98.65 628.98,99.65 629.36,100.70 C629.75,101.75 630.28,103.22 630.56,103.90 C630.85,104.58 630.68,104.17 631.06,104.80 C631.45,105.43 632.28,106.75 632.86,107.70 C633.45,108.65 633.98,109.55 634.56,110.50 C635.15,111.45 635.76,112.45 636.36,113.40 C636.96,114.35 637.63,115.27 638.16,116.20 C638.70,117.13 639.16,118.05 639.56,119.00 C639.97,119.95 640.32,120.95 640.61,121.90 C640.91,122.85 641.15,123.68 641.31,124.70 C641.48,125.72 641.56,127.08 641.61,128.00 C641.67,128.93 641.61,129.50 641.66,130.25 C641.72,131.00 641.91,132.12 641.96,132.50 L641.96,132.50 C642.01,132.12 642.21,131.00 642.26,130.25 C642.32,129.50 642.26,128.93 642.31,128.00 C642.37,127.08 642.45,125.72 642.61,124.70 C642.78,123.68 643.02,122.85 643.31,121.90 C643.61,120.95 643.96,119.95 644.36,119.00 C644.77,118.05 645.23,117.13 645.76,116.20 C646.30,115.27 646.96,114.35 647.56,113.40 C648.16,112.45 648.78,111.45 649.36,110.50 C649.95,109.55 650.48,108.65 651.06,107.70 C651.65,106.75 652.48,105.43 652.86,104.80 C653.25,104.17 653.08,104.58 653.36,103.90 C653.65,103.22 654.18,101.75 654.56,100.70 C654.95,99.65 655.21,98.65 655.66,97.60 C656.11,96.55 656.60,95.47 657.26,94.40 C657.93,93.33 658.80,92.27 659.66,91.20 C660.53,90.13 661.53,89.05 662.46,88.00 C663.40,86.95 664.35,85.95 665.26,84.90 C666.18,83.85 667.18,82.77 667.96,81.70 C668.75,80.63 669.46,79.57 669.96,78.50 C670.46,77.43 670.85,76.35 670.96,75.30 C671.08,74.25 670.91,73.17 670.66,72.20 C670.41,71.23 669.98,70.48 669.46,69.50 C668.95,68.52 668.21,67.22 667.56,66.30 C666.91,65.38 666.30,64.78 665.56,64.00 C664.83,63.22 664.03,62.40 663.16,61.60 C662.30,60.80 661.36,60.00 660.36,59.20 C659.36,58.40 658.21,57.60 657.16,56.80 C656.11,56.00 655.11,55.20 654.06,54.40 C653.01,53.60 651.73,52.78 650.86,52.00 C650.00,51.22 649.40,50.48 648.86,49.70 C648.33,48.92 648.06,48.10 647.66,47.30 C647.26,46.50 646.86,45.70 646.46,44.90 C646.06,44.10 645.66,43.30 645.26,42.50 C644.86,41.70 644.43,40.88 644.06,40.10 C643.70,39.32 643.31,38.58 643.06,37.80 C642.81,37.02 642.70,36.58 642.56,35.40 C642.43,34.22 642.36,32.27 642.26,30.70 C642.16,29.13 642.01,26.78 641.96,26.00 Z" fill="#F28072" stroke="#2a2a2a" stroke-width="1.0" stroke-linejoin="round"/><line x1="572.24" y1="31.30" x2="572.24" y2="57.80" stroke="#3a3a3a" stroke-width="0.8"/><line x1="572.24" y1="78.90" x2="572.24" y2="109.10" stroke="#3a3a3a" stroke-width="0.8"/><rect x="569.03" y="57.80" width="6.41" height="21.10" fill="#fff" stroke="#2a2a2a" stroke-width="0.7"/><line x1="569.03" y1="66.60" x2="575.44" y2="66.60" stroke="#1a1a1a" stroke-width="1.6"/><circle cx="572.24" cy="117.00" r="1.4" fill="#2b2b2b"/><circle cx="572.24" cy="120.90" r="1.4" fill="#2b2b2b"/><line x1="641.96" y1="39.30" x2="641.96" y2="67.90" stroke="#3a3a3a" stroke-width="0.8"/><line x1="641.96" y1="89.80" x2="641.96" y2="117.60" stroke="#3a3a3a" stroke-width="0.8"/><rect x="638.76" y="67.90" width="6.41" height="21.90" fill="#fff" stroke="#2a2a2a" stroke-width="0.7"/><line x1="638.76" y1="77.90" x2="645.17" y2="77.90" stroke="#1a1a1a" stroke-width="1.6"/><path d="M530.40,15.20 V140.50 H683.80" fill="none" stroke="#2e2e2e" stroke-width="1.15"/><line x1="528.20" y1="44.40" x2="530.40" y2="44.40" stroke="#2e2e2e" stroke-width="1.15"/><text transform="translate(526.60,48.20) scale(1,0.96)" font-size="10.1" fill="#4D4D4D" stroke="#4D4D4D" stroke-width="0.3" text-anchor="end">0.6</text><line x1="528.20" y1="77.45" x2="530.40" y2="77.45" stroke="#2e2e2e" stroke-width="1.15"/><text transform="translate(526.60,81.25) scale(1,0.96)" font-size="10.1" fill="#4D4D4D" stroke="#4D4D4D" stroke-width="0.3" text-anchor="end">0.4</text><line x1="528.20" y1="110.50" x2="530.40" y2="110.50" stroke="#2e2e2e" stroke-width="1.15"/><text transform="translate(526.60,114.30) scale(1,0.96)" font-size="10.1" fill="#4D4D4D" stroke="#4D4D4D" stroke-width="0.3" text-anchor="end">0.2</text><line x1="572.24" y1="140.50" x2="572.24" y2="142.70" stroke="#2e2e2e" stroke-width="1.15"/><text x="572.24" y="151.20" font-size="10.1" fill="#4D4D4D" stroke="#4D4D4D" stroke-width="0.3" text-anchor="middle">never</text><line x1="641.96" y1="140.50" x2="641.96" y2="142.70" stroke="#2e2e2e" stroke-width="1.15"/><text x="641.96" y="151.20" font-size="10.1" fill="#4D4D4D" stroke="#4D4D4D" stroke-width="0.3" text-anchor="middle">persistent</text><text x="607.10" y="8.90" font-size="11.5" fill="#000" stroke="#000" stroke-width="0.15" text-anchor="middle">cg03038262</text></g>
<g><path d="M60.00,183.00 C59.95,183.82 59.80,186.27 59.70,187.90 C59.60,189.53 59.58,191.47 59.40,192.80 C59.22,194.13 58.93,194.85 58.60,195.90 C58.27,196.95 57.87,198.03 57.40,199.10 C56.93,200.17 56.40,201.23 55.80,202.30 C55.20,203.37 54.52,204.45 53.80,205.50 C53.08,206.55 52.35,207.55 51.50,208.60 C50.65,209.65 49.57,210.73 48.70,211.80 C47.83,212.87 47.03,213.93 46.30,215.00 C45.57,216.07 44.83,217.15 44.30,218.20 C43.77,219.25 43.43,220.25 43.10,221.30 C42.77,222.35 42.52,223.47 42.30,224.50 C42.08,225.53 42.03,225.96 41.80,227.50 C41.57,229.04 41.17,231.67 40.90,233.75 C40.62,235.83 40.42,237.92 40.15,240.00 C39.88,242.08 39.59,244.17 39.30,246.25 C39.01,248.33 38.55,250.83 38.40,252.50 C38.25,254.17 38.27,255.00 38.40,256.25 C38.53,257.50 38.73,258.84 39.20,260.00 C39.67,261.16 40.48,262.15 41.20,263.20 C41.92,264.25 42.65,265.25 43.50,266.30 C44.35,267.35 45.30,268.43 46.30,269.50 C47.30,270.57 48.43,271.63 49.50,272.70 C50.57,273.77 51.65,274.85 52.70,275.90 C53.75,276.95 54.90,277.95 55.80,279.00 C56.70,280.05 57.53,281.13 58.10,282.20 C58.67,283.27 58.95,284.33 59.20,285.40 C59.45,286.47 59.52,287.38 59.60,288.60 C59.68,289.83 59.63,291.37 59.70,292.75 C59.77,294.13 59.95,296.21 60.00,296.90 L60.00,296.90 C60.05,296.21 60.23,294.13 60.30,292.75 C60.37,291.37 60.32,289.83 60.40,288.60 C60.48,287.38 60.55,286.47 60.80,285.40 C61.05,284.33 61.33,283.27 61.90,282.20 C62.47,281.13 63.30,280.05 64.20,279.00 C65.10,277.95 66.25,276.95 67.30,275.90 C68.35,274.85 69.43,273.77 70.50,272.70 C71.57,271.63 72.70,270.57 73.70,269.50 C74.70,268.43 75.65,267.35 76.50,266.30 C77.35,265.25 78.08,264.25 78.80,263.20 C79.52,262.15 80.33,261.16 80.80,260.00 C81.27,258.84 81.47,257.50 81.60,256.25 C81.73,255.00 81.75,254.17 81.60,252.50 C81.45,250.83 80.99,248.33 80.70,246.25 C80.41,244.17 80.12,242.08 79.85,240.00 C79.58,237.92 79.38,235.83 79.10,233.75 C78.82,231.67 78.43,229.04 78.20,227.50 C77.97,225.96 77.92,225.53 77.70,224.50 C77.48,223.47 77.23,222.35 76.90,221.30 C76.57,220.25 76.23,219.25 75.70,218.20 C75.17,217.15 74.43,216.07 73.70,215.00 C72.97,213.93 72.17,212.87 71.30,211.80 C70.43,210.73 69.35,209.65 68.50,208.60 C67.65,207.55 66.92,206.55 66.20,205.50 C65.48,204.45 64.80,203.37 64.20,202.30 C63.60,201.23 63.07,200.17 62.60,199.10 C62.13,198.03 61.73,196.95 61.40,195.90 C61.07,194.85 60.78,194.13 60.60,192.80 C60.42,191.47 60.40,189.53 60.30,187.90 C60.20,186.27 60.05,183.82 60.00,183.00 Z" fill="#80B1D3" stroke="#2a2a2a" stroke-width="1.0" stroke-linejoin="round"/><path d="M129.50,187.00 C129.45,187.58 129.30,189.33 129.20,190.50 C129.10,191.67 129.05,192.77 128.90,194.00 C128.75,195.23 128.48,196.58 128.30,197.90 C128.12,199.22 127.97,200.57 127.80,201.90 C127.63,203.23 127.47,204.58 127.30,205.90 C127.13,207.22 126.95,208.48 126.80,209.80 C126.65,211.12 126.58,212.47 126.40,213.80 C126.22,215.13 126.03,216.48 125.70,217.80 C125.37,219.12 124.88,220.52 124.40,221.70 C123.92,222.88 123.20,223.97 122.80,224.90 C122.40,225.83 122.22,226.58 122.00,227.30 C121.78,228.02 121.82,228.37 121.50,229.20 C121.18,230.03 120.67,231.25 120.10,232.30 C119.53,233.35 118.70,234.43 118.10,235.50 C117.50,236.57 117.03,237.63 116.50,238.70 C115.97,239.77 115.62,240.85 114.90,241.90 C114.18,242.95 113.25,243.95 112.20,245.00 C111.15,246.05 109.73,247.13 108.60,248.20 C107.47,249.27 106.33,250.33 105.40,251.40 C104.47,252.47 103.58,253.55 103.00,254.60 C102.42,255.65 102.18,256.72 101.90,257.70 C101.62,258.68 101.53,259.62 101.30,260.50 C101.07,261.38 100.82,262.08 100.50,263.00 C100.18,263.92 99.72,265.12 99.40,266.00 C99.08,266.88 98.77,267.55 98.60,268.30 C98.43,269.05 98.20,269.75 98.40,270.50 C98.60,271.25 98.82,272.05 99.80,272.80 C100.78,273.55 102.55,274.25 104.30,275.00 C106.05,275.75 108.30,276.55 110.30,277.30 C112.30,278.05 114.42,278.75 116.30,279.50 C118.18,280.25 120.10,281.03 121.60,281.80 C123.10,282.57 124.30,283.35 125.30,284.10 C126.30,284.85 127.03,285.55 127.60,286.30 C128.17,287.05 128.44,287.90 128.70,288.60 C128.96,289.30 129.07,290.00 129.15,290.50 C129.23,291.00 129.14,291.23 129.20,291.60 C129.26,291.97 129.45,292.52 129.50,292.70 L129.50,292.70 C129.55,292.52 129.74,291.97 129.80,291.60 C129.86,291.23 129.77,291.00 129.85,290.50 C129.93,290.00 130.04,289.30 130.30,288.60 C130.56,287.90 130.83,287.05 131.40,286.30 C131.97,285.55 132.70,284.85 133.70,284.10 C134.70,283.35 135.90,282.57 137.40,281.80 C138.90,281.03 140.82,280.25 142.70,279.50 C144.58,278.75 146.70,278.05 148.70,277.30 C150.70,276.55 152.95,275.75 154.70,275.00 C156.45,274.25 158.22,273.55 159.20,272.80 C160.18,272.05 160.40,271.25 160.60,270.50 C160.80,269.75 160.57,269.05 160.40,268.30 C160.23,267.55 159.92,266.88 159.60,266.00 C159.28,265.12 158.82,263.92 158.50,263.00 C158.18,262.08 157.93,261.38 157.70,260.50 C157.47,259.62 157.38,258.68 157.10,257.70 C156.82,256.72 156.58,255.65 156.00,254.60 C155.42,253.55 154.53,252.47 153.60,251.40 C152.67,250.33 151.53,249.27 150.40,248.20 C149.27,247.13 147.85,246.05 146.80,245.00 C145.75,243.95 144.82,242.95 144.10,241.90 C143.38,240.85 143.03,239.77 142.50,238.70 C141.97,237.63 141.50,236.57 140.90,235.50 C140.30,234.43 139.47,233.35 138.90,232.30 C138.33,231.25 137.82,230.03 137.50,229.20 C137.18,228.37 137.22,228.02 137.00,227.30 C136.78,226.58 136.60,225.83 136.20,224.90 C135.80,223.97 135.08,222.88 134.60,221.70 C134.12,220.52 133.63,219.12 133.30,217.80 C132.97,216.48 132.78,215.13 132.60,213.80 C132.42,212.47 132.35,211.12 132.20,209.80 C132.05,208.48 131.87,207.22 131.70,205.90 C131.53,204.58 131.37,203.23 131.20,201.90 C131.03,200.57 130.88,199.22 130.70,197.90 C130.52,196.58 130.25,195.23 130.10,194.00 C129.95,192.77 129.90,191.67 129.80,190.50 C129.70,189.33 129.55,187.58 129.50,187.00 Z" fill="#80B1D3" stroke="#2a2a2a" stroke-width="1.0" stroke-linejoin="round"/><line x1="60.00" y1="194.00" x2="60.00" y2="228.20" stroke="#3a3a3a" stroke-width="0.8"/><line x1="60.00" y1="258.30" x2="60.00" y2="279.40" stroke="#3a3a3a" stroke-width="0.8"/><rect x="56.80" y="228.20" width="6.39" height="30.10" fill="#fff" stroke="#2a2a2a" stroke-width="0.7"/><line x1="56.80" y1="243.60" x2="63.20" y2="243.60" stroke="#1a1a1a" stroke-width="1.6"/><line x1="129.50" y1="209.40" x2="129.50" y2="245.80" stroke="#3a3a3a" stroke-width="0.8"/><line x1="129.50" y1="269.80" x2="129.50" y2="277.70" stroke="#3a3a3a" stroke-width="0.8"/><rect x="126.30" y="245.80" width="6.39" height="24.00" fill="#fff" stroke="#2a2a2a" stroke-width="0.7"/><line x1="126.30" y1="258.40" x2="132.70" y2="258.40" stroke="#1a1a1a" stroke-width="1.6"/><circle cx="129.50" cy="202.30" r="1.4" fill="#2b2b2b"/><circle cx="129.50" cy="206.30" r="1.4" fill="#2b2b2b"/><path d="M18.30,177.90 V302.60 H171.20" fill="none" stroke="#2e2e2e" stroke-width="1.15"/><line x1="16.10" y1="180.20" x2="18.30" y2="180.20" stroke="#2e2e2e" stroke-width="1.15"/><text transform="translate(14.50,184.00) scale(1,0.96)" font-size="10.1" fill="#4D4D4D" stroke="#4D4D4D" stroke-width="0.3" text-anchor="end">0.8</text><line x1="16.10" y1="205.78" x2="18.30" y2="205.78" stroke="#2e2e2e" stroke-width="1.15"/><text transform="translate(14.50,209.58) scale(1,0.96)" font-size="10.1" fill="#4D4D4D" stroke="#4D4D4D" stroke-width="0.3" text-anchor="end">0.6</text><line x1="16.10" y1="231.35" x2="18.30" y2="231.35" stroke="#2e2e2e" stroke-width="1.15"/><text transform="translate(14.50,235.15) scale(1,0.96)" font-size="10.1" fill="#4D4D4D" stroke="#4D4D4D" stroke-width="0.3" text-anchor="end">0.4</text><line x1="16.10" y1="256.93" x2="18.30" y2="256.93" stroke="#2e2e2e" stroke-width="1.15"/><text transform="translate(14.50,260.73) scale(1,0.96)" font-size="10.1" fill="#4D4D4D" stroke="#4D4D4D" stroke-width="0.3" text-anchor="end">0.2</text><line x1="16.10" y1="282.50" x2="18.30" y2="282.50" stroke="#2e2e2e" stroke-width="1.15"/><text transform="translate(14.50,286.30) scale(1,0.96)" font-size="10.1" fill="#4D4D4D" stroke="#4D4D4D" stroke-width="0.3" text-anchor="end">0.0</text><line x1="60.00" y1="302.60" x2="60.00" y2="304.80" stroke="#2e2e2e" stroke-width="1.15"/><text x="60.00" y="313.30" font-size="10.1" fill="#4D4D4D" stroke="#4D4D4D" stroke-width="0.3" text-anchor="middle">never</text><line x1="129.50" y1="302.60" x2="129.50" y2="304.80" stroke="#2e2e2e" stroke-width="1.15"/><text x="129.50" y="313.30" font-size="10.1" fill="#4D4D4D" stroke="#4D4D4D" stroke-width="0.3" text-anchor="middle">persistent</text><text x="94.75" y="171.35" font-size="11.5" fill="#000" stroke="#000" stroke-width="0.15" text-anchor="middle">cg07839457</text></g>
<g><path d="M234.75,189.00 C234.70,189.50 234.55,191.00 234.45,192.00 C234.35,193.00 234.42,194.07 234.15,195.00 C233.89,195.93 233.74,196.75 232.85,197.60 C231.97,198.45 230.57,199.27 228.85,200.10 C227.14,200.93 224.85,201.77 222.55,202.60 C220.25,203.43 217.45,204.27 215.05,205.10 C212.65,205.93 209.89,206.67 208.15,207.60 C206.42,208.53 204.85,209.65 204.65,210.70 C204.45,211.75 205.64,212.75 206.95,213.90 C208.27,215.05 210.57,216.35 212.55,217.60 C214.54,218.85 216.97,220.15 218.85,221.40 C220.74,222.65 222.39,223.85 223.85,225.10 C225.32,226.35 226.72,227.63 227.65,228.90 C228.59,230.17 229.09,231.45 229.45,232.70 C229.82,233.95 229.76,235.25 229.85,236.40 C229.95,237.55 229.87,238.63 230.00,239.60 C230.14,240.57 230.35,241.22 230.65,242.20 C230.96,243.18 231.42,244.32 231.85,245.50 C232.29,246.68 232.97,248.30 233.25,249.30 C233.54,250.30 233.79,250.45 233.55,251.50 C233.32,252.55 232.40,254.08 231.85,255.60 C231.30,257.12 230.45,258.93 230.25,260.60 C230.05,262.27 230.39,263.93 230.65,265.60 C230.92,267.27 231.44,269.13 231.85,270.60 C232.27,272.07 232.80,273.15 233.15,274.40 C233.50,275.65 233.74,276.33 233.95,278.10 C234.17,279.87 234.32,282.70 234.45,285.00 C234.59,287.30 234.70,290.75 234.75,291.90 L234.75,291.90 C234.80,290.75 234.92,287.30 235.05,285.00 C235.19,282.70 235.34,279.87 235.55,278.10 C235.77,276.33 236.00,275.65 236.35,274.40 C236.70,273.15 237.24,272.07 237.65,270.60 C238.07,269.13 238.59,267.27 238.85,265.60 C239.12,263.93 239.45,262.27 239.25,260.60 C239.05,258.93 238.20,257.12 237.65,255.60 C237.10,254.08 236.19,252.55 235.95,251.50 C235.72,250.45 235.97,250.30 236.25,249.30 C236.54,248.30 237.22,246.68 237.65,245.50 C238.09,244.32 238.55,243.18 238.85,242.20 C239.16,241.22 239.37,240.57 239.50,239.60 C239.64,238.63 239.56,237.55 239.65,236.40 C239.75,235.25 239.69,233.95 240.05,232.70 C240.42,231.45 240.92,230.17 241.85,228.90 C242.79,227.63 244.19,226.35 245.65,225.10 C247.12,223.85 248.77,222.65 250.65,221.40 C252.54,220.15 254.97,218.85 256.95,217.60 C258.94,216.35 261.24,215.05 262.55,213.90 C263.87,212.75 265.05,211.75 264.85,210.70 C264.65,209.65 263.09,208.53 261.35,207.60 C259.62,206.67 256.85,205.93 254.45,205.10 C252.05,204.27 249.25,203.43 246.95,202.60 C244.65,201.77 242.37,200.93 240.65,200.10 C238.94,199.27 237.54,198.45 236.65,197.60 C235.77,196.75 235.62,195.93 235.35,195.00 C235.09,194.07 235.15,193.00 235.05,192.00 C234.95,191.00 234.80,189.50 234.75,189.00 Z" fill="#F8B264" stroke="#2a2a2a" stroke-width="1.0" stroke-linejoin="round"/><path d="M301.85,183.10 C301.80,183.93 301.63,186.40 301.55,188.05 C301.46,189.70 301.43,191.88 301.35,193.00 C301.26,194.12 301.28,194.12 301.05,194.80 C300.81,195.48 300.53,196.32 299.95,197.10 C299.36,197.88 298.35,198.70 297.55,199.50 C296.75,200.30 295.88,201.10 295.15,201.90 C294.41,202.70 293.76,203.50 293.15,204.30 C292.53,205.10 291.98,205.92 291.45,206.70 C290.91,207.48 290.40,208.22 289.95,209.00 C289.50,209.78 289.06,210.60 288.75,211.40 C288.43,212.20 288.26,213.00 288.05,213.80 C287.83,214.60 287.55,215.40 287.45,216.20 C287.35,217.00 287.40,217.68 287.45,218.60 C287.50,219.52 287.56,220.65 287.75,221.70 C287.93,222.75 288.31,223.97 288.55,224.90 C288.78,225.83 288.86,226.42 289.15,227.30 C289.43,228.18 289.86,228.88 290.25,230.20 C290.63,231.52 291.16,233.63 291.45,235.20 C291.73,236.77 291.78,238.30 291.95,239.60 C292.11,240.90 292.21,241.60 292.45,243.00 C292.68,244.40 293.10,246.33 293.35,248.00 C293.60,249.67 293.85,251.32 293.95,253.00 C294.05,254.68 293.98,256.42 293.95,258.10 C293.91,259.78 293.63,261.43 293.75,263.10 C293.86,264.77 294.08,266.43 294.65,268.10 C295.21,269.77 296.36,271.43 297.15,273.10 C297.93,274.77 298.73,276.63 299.35,278.10 C299.96,279.57 300.51,280.85 300.85,281.90 C301.18,282.95 301.23,282.94 301.35,284.40 C301.46,285.86 301.46,288.57 301.55,290.65 C301.63,292.73 301.80,295.86 301.85,296.90 L301.85,296.90 C301.90,295.86 302.06,292.73 302.15,290.65 C302.23,288.57 302.23,285.86 302.35,284.40 C302.46,282.94 302.51,282.95 302.85,281.90 C303.18,280.85 303.73,279.57 304.35,278.10 C304.96,276.63 305.76,274.77 306.55,273.10 C307.33,271.43 308.48,269.77 309.05,268.10 C309.61,266.43 309.83,264.77 309.95,263.10 C310.06,261.43 309.78,259.78 309.75,258.10 C309.71,256.42 309.65,254.68 309.75,253.00 C309.85,251.32 310.10,249.67 310.35,248.00 C310.60,246.33 311.01,244.40 311.25,243.00 C311.48,241.60 311.58,240.90 311.75,239.60 C311.91,238.30 311.96,236.77 312.25,235.20 C312.53,233.63 313.06,231.52 313.45,230.20 C313.83,228.88 314.26,228.18 314.55,227.30 C314.83,226.42 314.91,225.83 315.15,224.90 C315.38,223.97 315.76,222.75 315.95,221.70 C316.13,220.65 316.20,219.52 316.25,218.60 C316.30,217.68 316.35,217.00 316.25,216.20 C316.15,215.40 315.86,214.60 315.65,213.80 C315.43,213.00 315.26,212.20 314.95,211.40 C314.63,210.60 314.20,209.78 313.75,209.00 C313.30,208.22 312.78,207.48 312.25,206.70 C311.71,205.92 311.16,205.10 310.55,204.30 C309.93,203.50 309.28,202.70 308.55,201.90 C307.81,201.10 306.95,200.30 306.15,199.50 C305.35,198.70 304.33,197.88 303.75,197.10 C303.16,196.32 302.88,195.48 302.65,194.80 C302.41,194.12 302.43,194.12 302.35,193.00 C302.26,191.88 302.23,189.70 302.15,188.05 C302.06,186.40 301.90,183.93 301.85,183.10 Z" fill="#F8B264" stroke="#2a2a2a" stroke-width="1.0" stroke-linejoin="round"/><line x1="234.75" y1="195.50" x2="234.75" y2="210.10" stroke="#3a3a3a" stroke-width="0.8"/><line x1="234.75" y1="226.10" x2="234.75" y2="250.00" stroke="#3a3a3a" stroke-width="0.8"/><rect x="231.67" y="210.10" width="6.17" height="16.00" fill="#fff" stroke="#2a2a2a" stroke-width="0.7"/><line x1="231.67" y1="215.70" x2="237.84" y2="215.70" stroke="#1a1a1a" stroke-width="1.6"/><line x1="234.75" y1="252.00" x2="234.75" y2="283.50" stroke="#2b2b2b" stroke-width="3.40" stroke-linecap="round"/><line x1="301.85" y1="201.10" x2="301.85" y2="218.60" stroke="#3a3a3a" stroke-width="0.8"/><line x1="301.85" y1="251.20" x2="301.85" y2="279.80" stroke="#3a3a3a" stroke-width="0.8"/><rect x="298.76" y="218.60" width="6.17" height="32.60" fill="#fff" stroke="#2a2a2a" stroke-width="0.7"/><line x1="298.76" y1="231.40" x2="304.93" y2="231.40" stroke="#1a1a1a" stroke-width="1.6"/><path d="M194.50,177.90 V302.60 H342.10" fill="none" stroke="#2e2e2e" stroke-width="1.15"/><line x1="192.30" y1="178.40" x2="194.50" y2="178.40" stroke="#2e2e2e" stroke-width="1.15"/><text transform="translate(190.70,182.20) scale(1,0.96)" font-size="10.1" fill="#4D4D4D" stroke="#4D4D4D" stroke-width="0.3" text-anchor="end">1.00</text><line x1="192.30" y1="203.63" x2="194.50" y2="203.63" stroke="#2e2e2e" stroke-width="1.15"/><text transform="translate(190.70,207.43) scale(1,0.96)" font-size="10.1" fill="#4D4D4D" stroke="#4D4D4D" stroke-width="0.3" text-anchor="end">0.75</text><line x1="192.30" y1="228.85" x2="194.50" y2="228.85" stroke="#2e2e2e" stroke-width="1.15"/><text transform="translate(190.70,232.65) scale(1,0.96)" font-size="10.1" fill="#4D4D4D" stroke="#4D4D4D" stroke-width="0.3" text-anchor="end">0.50</text><line x1="192.30" y1="254.08" x2="194.50" y2="254.08" stroke="#2e2e2e" stroke-width="1.15"/><text transform="translate(190.70,257.88) scale(1,0.96)" font-size="10.1" fill="#4D4D4D" stroke="#4D4D4D" stroke-width="0.3" text-anchor="end">0.25</text><line x1="192.30" y1="279.30" x2="194.50" y2="279.30" stroke="#2e2e2e" stroke-width="1.15"/><text transform="translate(190.70,283.10) scale(1,0.96)" font-size="10.1" fill="#4D4D4D" stroke="#4D4D4D" stroke-width="0.3" text-anchor="end">0.00</text><line x1="234.75" y1="302.60" x2="234.75" y2="304.80" stroke="#2e2e2e" stroke-width="1.15"/><text x="234.75" y="313.30" font-size="10.1" fill="#4D4D4D" stroke="#4D4D4D" stroke-width="0.3" text-anchor="middle">never</text><line x1="301.85" y1="302.60" x2="301.85" y2="304.80" stroke="#2e2e2e" stroke-width="1.15"/><text x="301.85" y="313.30" font-size="10.1" fill="#4D4D4D" stroke="#4D4D4D" stroke-width="0.3" text-anchor="middle">persistent</text><text x="268.30" y="171.35" font-size="11.5" fill="#000" stroke="#000" stroke-width="0.15" text-anchor="middle">cg22930808</text></g>
<g><path d="M401.51,185.60 C401.46,186.38 401.28,188.73 401.21,190.30 C401.14,191.87 401.21,193.37 401.11,195.00 C401.01,196.63 400.74,198.42 400.61,200.10 C400.48,201.78 400.36,203.78 400.31,205.10 C400.26,206.42 400.34,206.85 400.31,208.00 C400.28,209.15 400.31,210.68 400.11,212.00 C399.91,213.32 399.54,214.85 399.11,215.90 C398.68,216.95 398.11,217.50 397.51,218.30 C396.91,219.10 396.29,219.77 395.51,220.70 C394.73,221.63 393.73,222.85 392.81,223.90 C391.89,224.95 390.94,225.95 390.01,227.00 C389.08,228.05 388.21,229.13 387.21,230.20 C386.21,231.27 384.99,232.33 384.01,233.40 C383.03,234.47 382.03,235.55 381.31,236.60 C380.59,237.65 380.04,238.65 379.71,239.70 C379.38,240.75 379.34,241.97 379.31,242.90 C379.28,243.83 379.39,244.58 379.51,245.30 C379.63,246.02 379.66,246.37 380.01,247.20 C380.36,248.03 381.09,249.25 381.61,250.30 C382.13,251.35 382.69,252.43 383.11,253.50 C383.53,254.57 383.84,255.63 384.11,256.70 C384.38,257.77 384.49,258.85 384.71,259.90 C384.93,260.95 385.21,261.95 385.41,263.00 C385.61,264.05 385.63,265.13 385.91,266.20 C386.19,267.27 386.31,268.33 387.11,269.40 C387.91,270.47 389.51,271.55 390.71,272.60 C391.91,273.65 393.19,274.65 394.31,275.70 C395.43,276.75 396.56,277.97 397.41,278.90 C398.26,279.83 398.91,280.53 399.41,281.30 C399.91,282.07 400.16,282.78 400.41,283.50 C400.66,284.22 400.78,284.41 400.91,285.60 C401.04,286.79 401.11,288.97 401.21,290.65 C401.31,292.33 401.46,294.86 401.51,295.70 L401.51,295.70 C401.56,294.86 401.71,292.33 401.81,290.65 C401.91,288.97 401.98,286.79 402.11,285.60 C402.24,284.41 402.36,284.22 402.61,283.50 C402.86,282.78 403.11,282.07 403.61,281.30 C404.11,280.53 404.76,279.83 405.61,278.90 C406.46,277.97 407.59,276.75 408.71,275.70 C409.83,274.65 411.11,273.65 412.31,272.60 C413.51,271.55 415.11,270.47 415.91,269.40 C416.71,268.33 416.83,267.27 417.11,266.20 C417.39,265.13 417.41,264.05 417.61,263.00 C417.81,261.95 418.09,260.95 418.31,259.90 C418.53,258.85 418.64,257.77 418.91,256.70 C419.18,255.63 419.49,254.57 419.91,253.50 C420.33,252.43 420.89,251.35 421.41,250.30 C421.93,249.25 422.66,248.03 423.01,247.20 C423.36,246.37 423.39,246.02 423.51,245.30 C423.63,244.58 423.74,243.83 423.71,242.90 C423.68,241.97 423.64,240.75 423.31,239.70 C422.98,238.65 422.43,237.65 421.71,236.60 C420.99,235.55 419.99,234.47 419.01,233.40 C418.03,232.33 416.81,231.27 415.81,230.20 C414.81,229.13 413.94,228.05 413.01,227.00 C412.08,225.95 411.13,224.95 410.21,223.90 C409.29,222.85 408.29,221.63 407.51,220.70 C406.73,219.77 406.11,219.10 405.51,218.30 C404.91,217.50 404.34,216.95 403.91,215.90 C403.48,214.85 403.11,213.32 402.91,212.00 C402.71,210.68 402.74,209.15 402.71,208.00 C402.68,206.85 402.76,206.42 402.71,205.10 C402.66,203.78 402.54,201.78 402.41,200.10 C402.28,198.42 402.01,196.63 401.91,195.00 C401.81,193.37 401.88,191.87 401.81,190.30 C401.74,188.73 401.56,186.38 401.51,185.60 Z" fill="#B6D66D" stroke="#2a2a2a" stroke-width="1.0" stroke-linejoin="round"/><path d="M471.39,183.10 C471.34,184.09 471.17,187.07 471.09,189.05 C471.01,191.03 470.97,192.32 470.89,195.00 C470.82,197.68 470.72,202.17 470.64,205.10 C470.56,208.03 470.46,210.52 470.39,212.60 C470.32,214.68 470.28,216.37 470.24,217.60 C470.20,218.83 470.22,218.93 470.14,220.00 C470.07,221.07 470.05,222.68 469.79,224.00 C469.53,225.32 469.19,226.72 468.59,227.90 C467.99,229.08 467.11,230.03 466.19,231.10 C465.27,232.17 464.07,233.23 463.09,234.30 C462.11,235.37 461.16,236.45 460.29,237.50 C459.42,238.55 458.57,239.55 457.89,240.60 C457.21,241.65 456.61,242.73 456.19,243.80 C455.77,244.87 455.64,245.93 455.39,247.00 C455.14,248.07 455.01,249.15 454.69,250.20 C454.37,251.25 453.79,252.42 453.49,253.30 C453.19,254.18 453.36,254.67 452.89,255.50 C452.42,256.33 451.66,257.30 450.69,258.30 C449.72,259.30 448.36,260.43 447.09,261.50 C445.82,262.57 444.27,263.63 443.09,264.70 C441.91,265.77 440.51,266.97 439.99,267.90 C439.47,268.83 439.34,269.52 439.99,270.30 C440.64,271.08 442.17,271.82 443.89,272.60 C445.61,273.38 448.17,274.20 450.29,275.00 C452.41,275.80 454.61,276.60 456.59,277.40 C458.57,278.20 460.59,279.00 462.19,279.80 C463.79,280.60 465.07,281.42 466.19,282.20 C467.31,282.98 468.17,283.72 468.89,284.50 C469.61,285.28 470.14,286.07 470.49,286.90 C470.84,287.73 470.89,288.45 470.99,289.50 C471.09,290.55 471.02,291.97 471.09,293.20 C471.16,294.43 471.34,296.28 471.39,296.90 L471.39,296.90 C471.44,296.28 471.62,294.43 471.69,293.20 C471.76,291.97 471.69,290.55 471.79,289.50 C471.89,288.45 471.94,287.73 472.29,286.90 C472.64,286.07 473.17,285.28 473.89,284.50 C474.61,283.72 475.47,282.98 476.59,282.20 C477.71,281.42 478.99,280.60 480.59,279.80 C482.19,279.00 484.21,278.20 486.19,277.40 C488.17,276.60 490.37,275.80 492.49,275.00 C494.61,274.20 497.17,273.38 498.89,272.60 C500.61,271.82 502.14,271.08 502.79,270.30 C503.44,269.52 503.31,268.83 502.79,267.90 C502.27,266.97 500.87,265.77 499.69,264.70 C498.51,263.63 496.96,262.57 495.69,261.50 C494.42,260.43 493.06,259.30 492.09,258.30 C491.12,257.30 490.36,256.33 489.89,255.50 C489.42,254.67 489.59,254.18 489.29,253.30 C488.99,252.42 488.41,251.25 488.09,250.20 C487.77,249.15 487.64,248.07 487.39,247.00 C487.14,245.93 487.01,244.87 486.59,243.80 C486.17,242.73 485.57,241.65 484.89,240.60 C484.21,239.55 483.36,238.55 482.49,237.50 C481.62,236.45 480.67,235.37 479.69,234.30 C478.71,233.23 477.51,232.17 476.59,231.10 C475.67,230.03 474.79,229.08 474.19,227.90 C473.59,226.72 473.25,225.32 472.99,224.00 C472.73,222.68 472.72,221.07 472.64,220.00 C472.57,218.93 472.58,218.83 472.54,217.60 C472.50,216.37 472.46,214.68 472.39,212.60 C472.32,210.52 472.22,208.03 472.14,205.10 C472.06,202.17 471.97,197.68 471.89,195.00 C471.82,192.32 471.77,191.03 471.69,189.05 C471.61,187.07 471.44,184.09 471.39,183.10 Z" fill="#B6D66D" stroke="#2a2a2a" stroke-width="1.0" stroke-linejoin="round"/><line x1="401.51" y1="204.00" x2="401.51" y2="238.40" stroke="#3a3a3a" stroke-width="0.8"/><line x1="401.51" y1="261.10" x2="401.51" y2="280.60" stroke="#3a3a3a" stroke-width="0.8"/><rect x="398.30" y="238.40" width="6.41" height="22.70" fill="#fff" stroke="#2a2a2a" stroke-width="0.7"/><line x1="398.30" y1="248.40" x2="404.71" y2="248.40" stroke="#1a1a1a" stroke-width="1.6"/><circle cx="401.51" cy="200.30" r="1.4" fill="#2b2b2b"/><line x1="471.39" y1="210.10" x2="471.39" y2="249.80" stroke="#3a3a3a" stroke-width="0.8"/><line x1="471.39" y1="270.40" x2="471.39" y2="284.10" stroke="#3a3a3a" stroke-width="0.8"/><rect x="468.19" y="249.80" width="6.41" height="20.60" fill="#fff" stroke="#2a2a2a" stroke-width="0.7"/><line x1="468.19" y1="262.70" x2="474.60" y2="262.70" stroke="#1a1a1a" stroke-width="1.6"/><circle cx="471.39" cy="195.70" r="1.4" fill="#2b2b2b"/><circle cx="471.39" cy="200.30" r="1.4" fill="#2b2b2b"/><circle cx="471.39" cy="208.60" r="1.4" fill="#2b2b2b"/><path d="M359.70,177.90 V302.60 H513.00" fill="none" stroke="#2e2e2e" stroke-width="1.15"/><line x1="357.50" y1="211.40" x2="359.70" y2="211.40" stroke="#2e2e2e" stroke-width="1.15"/><text transform="translate(355.90,215.20) scale(1,0.96)" font-size="10.1" fill="#4D4D4D" stroke="#4D4D4D" stroke-width="0.3" text-anchor="end">0.2</text><line x1="357.50" y1="251.35" x2="359.70" y2="251.35" stroke="#2e2e2e" stroke-width="1.15"/><text transform="translate(355.90,255.15) scale(1,0.96)" font-size="10.1" fill="#4D4D4D" stroke="#4D4D4D" stroke-width="0.3" text-anchor="end">0.1</text><line x1="357.50" y1="291.30" x2="359.70" y2="291.30" stroke="#2e2e2e" stroke-width="1.15"/><text transform="translate(355.90,295.10) scale(1,0.96)" font-size="10.1" fill="#4D4D4D" stroke="#4D4D4D" stroke-width="0.3" text-anchor="end">0.0</text><line x1="401.51" y1="302.60" x2="401.51" y2="304.80" stroke="#2e2e2e" stroke-width="1.15"/><text x="401.51" y="313.30" font-size="10.1" fill="#4D4D4D" stroke="#4D4D4D" stroke-width="0.3" text-anchor="middle">never</text><line x1="471.19" y1="302.60" x2="471.19" y2="304.80" stroke="#2e2e2e" stroke-width="1.15"/><text x="471.19" y="313.30" font-size="10.1" fill="#4D4D4D" stroke="#4D4D4D" stroke-width="0.3" text-anchor="middle">persistent</text><text x="436.35" y="171.35" font-size="11.5" fill="#000" stroke="#000" stroke-width="0.15" text-anchor="middle">cg03753191</text></g>
<g><path d="M572.24,186.00 C572.19,186.50 572.05,188.00 571.94,189.00 C571.82,190.00 571.80,190.97 571.54,192.00 C571.27,193.03 570.79,194.15 570.34,195.20 C569.89,196.25 569.49,197.25 568.84,198.30 C568.19,199.35 567.37,200.43 566.44,201.50 C565.50,202.57 564.30,203.63 563.24,204.70 C562.17,205.77 561.15,206.85 560.04,207.90 C558.92,208.95 557.92,209.95 556.54,211.00 C555.15,212.05 553.47,213.13 551.74,214.20 C550.00,215.27 547.59,216.47 546.14,217.40 C544.69,218.33 543.89,219.00 543.04,219.80 C542.19,220.60 541.44,221.42 541.04,222.20 C540.64,222.98 540.60,223.72 540.64,224.50 C540.67,225.28 540.94,226.15 541.24,226.90 C541.54,227.65 541.94,228.28 542.44,229.00 C542.94,229.72 543.29,230.32 544.24,231.20 C545.19,232.08 546.42,233.25 548.14,234.30 C549.85,235.35 552.55,236.43 554.54,237.50 C556.52,238.57 558.45,239.63 560.04,240.70 C561.62,241.77 562.97,242.85 564.04,243.90 C565.10,244.95 565.82,245.95 566.44,247.00 C567.05,248.05 567.44,249.13 567.74,250.20 C568.04,251.27 568.20,252.33 568.24,253.40 C568.27,254.47 568.00,255.50 567.94,256.60 C567.87,257.70 567.72,258.78 567.84,260.00 C567.95,261.22 568.30,262.58 568.64,263.90 C568.97,265.22 569.57,266.57 569.84,267.90 C570.10,269.23 570.10,270.58 570.24,271.90 C570.37,273.22 570.50,274.48 570.64,275.80 C570.77,277.12 570.90,278.47 571.04,279.80 C571.17,281.13 571.32,282.60 571.44,283.80 C571.55,285.00 571.65,286.14 571.74,287.00 C571.82,287.86 571.85,288.30 571.94,288.95 C572.02,289.60 572.19,290.57 572.24,290.90 L572.24,290.90 C572.29,290.57 572.45,289.60 572.54,288.95 C572.62,288.30 572.65,287.86 572.74,287.00 C572.82,286.14 572.92,285.00 573.04,283.80 C573.15,282.60 573.30,281.13 573.44,279.80 C573.57,278.47 573.70,277.12 573.84,275.80 C573.97,274.48 574.10,273.22 574.24,271.90 C574.37,270.58 574.37,269.23 574.64,267.90 C574.90,266.57 575.50,265.22 575.84,263.90 C576.17,262.58 576.52,261.22 576.64,260.00 C576.75,258.78 576.60,257.70 576.54,256.60 C576.47,255.50 576.20,254.47 576.24,253.40 C576.27,252.33 576.44,251.27 576.74,250.20 C577.04,249.13 577.42,248.05 578.04,247.00 C578.65,245.95 579.37,244.95 580.44,243.90 C581.50,242.85 582.85,241.77 584.44,240.70 C586.02,239.63 587.95,238.57 589.94,237.50 C591.92,236.43 594.62,235.35 596.34,234.30 C598.05,233.25 599.29,232.08 600.24,231.20 C601.19,230.32 601.54,229.72 602.04,229.00 C602.54,228.28 602.94,227.65 603.24,226.90 C603.54,226.15 603.80,225.28 603.84,224.50 C603.87,223.72 603.84,222.98 603.44,222.20 C603.04,221.42 602.29,220.60 601.44,219.80 C600.59,219.00 599.79,218.33 598.34,217.40 C596.89,216.47 594.47,215.27 592.74,214.20 C591.00,213.13 589.32,212.05 587.94,211.00 C586.55,209.95 585.55,208.95 584.44,207.90 C583.32,206.85 582.30,205.77 581.24,204.70 C580.17,203.63 578.97,202.57 578.04,201.50 C577.10,200.43 576.29,199.35 575.64,198.30 C574.99,197.25 574.59,196.25 574.14,195.20 C573.69,194.15 573.20,193.03 572.94,192.00 C572.67,190.97 572.65,190.00 572.54,189.00 C572.42,188.00 572.29,186.50 572.24,186.00 Z" fill="#F8CFE1" stroke="#2a2a2a" stroke-width="1.0" stroke-linejoin="round"/><path d="M641.96,183.10 C641.91,183.97 641.75,186.57 641.66,188.30 C641.58,190.03 641.55,192.35 641.46,193.50 C641.38,194.65 641.41,194.40 641.16,195.20 C640.91,196.00 640.43,197.25 639.96,198.30 C639.50,199.35 638.91,200.43 638.36,201.50 C637.81,202.57 637.25,203.63 636.66,204.70 C636.08,205.77 635.56,206.85 634.86,207.90 C634.16,208.95 633.40,209.95 632.46,211.00 C631.53,212.05 630.33,213.13 629.26,214.20 C628.20,215.27 627.00,216.33 626.06,217.40 C625.13,218.47 624.23,219.55 623.66,220.60 C623.10,221.65 622.86,222.65 622.66,223.70 C622.46,224.75 622.43,225.97 622.46,226.90 C622.50,227.83 622.66,228.58 622.86,229.30 C623.06,230.02 623.40,230.37 623.66,231.20 C623.93,232.03 624.33,233.25 624.46,234.30 C624.60,235.35 624.50,236.43 624.46,237.50 C624.43,238.57 624.26,239.63 624.26,240.70 C624.26,241.77 624.23,242.85 624.46,243.90 C624.70,244.95 625.13,245.95 625.66,247.00 C626.20,248.05 627.00,249.13 627.66,250.20 C628.33,251.27 629.06,252.33 629.66,253.40 C630.26,254.47 630.80,255.55 631.26,256.60 C631.73,257.65 632.10,258.65 632.46,259.70 C632.83,260.75 633.16,261.97 633.46,262.90 C633.76,263.83 633.88,264.43 634.26,265.30 C634.65,266.17 635.16,266.80 635.76,268.10 C636.36,269.40 637.21,271.43 637.86,273.10 C638.51,274.77 639.15,276.63 639.66,278.10 C640.18,279.57 640.63,280.02 640.96,281.90 C641.30,283.78 641.50,286.90 641.66,289.40 C641.83,291.90 641.91,295.65 641.96,296.90 L641.96,296.90 C642.01,295.65 642.10,291.90 642.26,289.40 C642.43,286.90 642.63,283.78 642.96,281.90 C643.30,280.02 643.75,279.57 644.26,278.10 C644.78,276.63 645.41,274.77 646.06,273.10 C646.71,271.43 647.56,269.40 648.16,268.10 C648.76,266.80 649.28,266.17 649.66,265.30 C650.05,264.43 650.16,263.83 650.46,262.90 C650.76,261.97 651.10,260.75 651.46,259.70 C651.83,258.65 652.20,257.65 652.66,256.60 C653.13,255.55 653.66,254.47 654.26,253.40 C654.86,252.33 655.60,251.27 656.26,250.20 C656.93,249.13 657.73,248.05 658.26,247.00 C658.80,245.95 659.23,244.95 659.46,243.90 C659.70,242.85 659.66,241.77 659.66,240.70 C659.66,239.63 659.50,238.57 659.46,237.50 C659.43,236.43 659.33,235.35 659.46,234.30 C659.60,233.25 660.00,232.03 660.26,231.20 C660.53,230.37 660.86,230.02 661.06,229.30 C661.26,228.58 661.43,227.83 661.46,226.90 C661.50,225.97 661.46,224.75 661.26,223.70 C661.06,222.65 660.83,221.65 660.26,220.60 C659.70,219.55 658.80,218.47 657.86,217.40 C656.93,216.33 655.73,215.27 654.66,214.20 C653.60,213.13 652.40,212.05 651.46,211.00 C650.53,209.95 649.76,208.95 649.06,207.90 C648.36,206.85 647.85,205.77 647.26,204.70 C646.68,203.63 646.11,202.57 645.56,201.50 C645.01,200.43 644.43,199.35 643.96,198.30 C643.50,197.25 643.01,196.00 642.76,195.20 C642.51,194.40 642.55,194.65 642.46,193.50 C642.38,192.35 642.35,190.03 642.26,188.30 C642.18,186.57 642.01,183.97 641.96,183.10 Z" fill="#F8CFE1" stroke="#2a2a2a" stroke-width="1.0" stroke-linejoin="round"/><line x1="572.24" y1="192.50" x2="572.24" y2="219.40" stroke="#3a3a3a" stroke-width="0.8"/><line x1="572.24" y1="234.00" x2="572.24" y2="257.40" stroke="#3a3a3a" stroke-width="0.8"/><rect x="569.03" y="219.40" width="6.41" height="14.60" fill="#fff" stroke="#2a2a2a" stroke-width="0.7"/><line x1="569.03" y1="226.50" x2="575.44" y2="226.50" stroke="#1a1a1a" stroke-width="1.6"/><line x1="572.24" y1="258.50" x2="572.24" y2="267.00" stroke="#2b2b2b" stroke-width="3.20" stroke-linecap="round"/><circle cx="572.24" cy="271.00" r="1.4" fill="#2b2b2b"/><circle cx="572.24" cy="273.30" r="1.4" fill="#2b2b2b"/><circle cx="572.24" cy="276.00" r="1.4" fill="#2b2b2b"/><circle cx="572.24" cy="280.00" r="1.4" fill="#2b2b2b"/><line x1="641.96" y1="196.00" x2="641.96" y2="223.70" stroke="#3a3a3a" stroke-width="0.8"/><line x1="641.96" y1="249.80" x2="641.96" y2="283.10" stroke="#3a3a3a" stroke-width="0.8"/><rect x="638.76" y="223.70" width="6.41" height="26.10" fill="#fff" stroke="#2a2a2a" stroke-width="0.7"/><line x1="638.76" y1="235.90" x2="645.17" y2="235.90" stroke="#1a1a1a" stroke-width="1.6"/><path d="M530.40,177.90 V302.60 H683.80" fill="none" stroke="#2e2e2e" stroke-width="1.15"/><line x1="528.20" y1="181.20" x2="530.40" y2="181.20" stroke="#2e2e2e" stroke-width="1.15"/><text transform="translate(526.60,185.00) scale(1,0.96)" font-size="10.1" fill="#4D4D4D" stroke="#4D4D4D" stroke-width="0.3" text-anchor="end">0.8</text><line x1="528.20" y1="206.15" x2="530.40" y2="206.15" stroke="#2e2e2e" stroke-width="1.15"/><text transform="translate(526.60,209.95) scale(1,0.96)" font-size="10.1" fill="#4D4D4D" stroke="#4D4D4D" stroke-width="0.3" text-anchor="end">0.6</text><line x1="528.20" y1="233.10" x2="530.40" y2="233.10" stroke="#2e2e2e" stroke-width="1.15"/><text transform="translate(526.60,236.90) scale(1,0.96)" font-size="10.1" fill="#4D4D4D" stroke="#4D4D4D" stroke-width="0.3" text-anchor="end">0.4</text><line x1="528.20" y1="259.05" x2="530.40" y2="259.05" stroke="#2e2e2e" stroke-width="1.15"/><text transform="translate(526.60,262.85) scale(1,0.96)" font-size="10.1" fill="#4D4D4D" stroke="#4D4D4D" stroke-width="0.3" text-anchor="end">0.2</text><line x1="528.20" y1="285.00" x2="530.40" y2="285.00" stroke="#2e2e2e" stroke-width="1.15"/><text transform="translate(526.60,288.80) scale(1,0.96)" font-size="10.1" fill="#4D4D4D" stroke="#4D4D4D" stroke-width="0.3" text-anchor="end">0.0</text><line x1="572.24" y1="302.60" x2="572.24" y2="304.80" stroke="#2e2e2e" stroke-width="1.15"/><text x="572.24" y="313.30" font-size="10.1" fill="#4D4D4D" stroke="#4D4D4D" stroke-width="0.3" text-anchor="middle">never</text><line x1="641.96" y1="302.60" x2="641.96" y2="304.80" stroke="#2e2e2e" stroke-width="1.15"/><text x="641.96" y="313.30" font-size="10.1" fill="#4D4D4D" stroke="#4D4D4D" stroke-width="0.3" text-anchor="middle">persistent</text><text x="607.10" y="171.35" font-size="11.5" fill="#000" stroke="#000" stroke-width="0.15" text-anchor="middle">cg06981309</text></g>
<g><path d="M59.95,345.10 C59.90,346.18 59.73,349.40 59.65,351.55 C59.56,353.70 59.56,356.46 59.45,358.00 C59.33,359.54 59.36,359.82 58.95,360.80 C58.53,361.78 57.65,362.85 56.95,363.90 C56.25,364.95 55.41,366.03 54.75,367.10 C54.08,368.17 53.46,369.23 52.95,370.30 C52.43,371.37 52.18,372.45 51.65,373.50 C51.11,374.55 50.71,375.55 49.75,376.60 C48.78,377.65 47.16,378.73 45.85,379.80 C44.53,380.87 43.05,381.93 41.85,383.00 C40.65,384.07 39.65,385.15 38.65,386.20 C37.65,387.25 36.70,388.25 35.85,389.30 C35.00,390.35 34.13,391.65 33.55,392.50 C32.96,393.35 32.75,393.68 32.35,394.40 C31.95,395.12 31.28,396.02 31.15,396.80 C31.01,397.58 31.15,398.32 31.55,399.10 C31.95,399.88 32.70,400.57 33.55,401.50 C34.40,402.43 35.60,403.63 36.65,404.70 C37.70,405.77 38.78,406.85 39.85,407.90 C40.91,408.95 41.98,409.95 43.05,411.00 C44.11,412.05 45.26,413.13 46.25,414.20 C47.23,415.27 48.03,416.33 48.95,417.40 C49.86,418.47 50.95,419.55 51.75,420.60 C52.55,421.65 53.10,422.65 53.75,423.70 C54.40,424.75 55.01,425.80 55.65,426.90 C56.28,428.00 57.06,429.20 57.55,430.30 C58.03,431.40 58.28,432.43 58.55,433.50 C58.81,434.57 59.00,435.62 59.15,436.70 C59.30,437.78 59.36,437.82 59.45,440.00 C59.53,442.18 59.56,446.53 59.65,449.80 C59.73,453.07 59.90,457.97 59.95,459.60 L59.95,459.60 C60.00,457.97 60.16,453.07 60.25,449.80 C60.33,446.53 60.36,442.18 60.45,440.00 C60.53,437.82 60.60,437.78 60.75,436.70 C60.90,435.62 61.08,434.57 61.35,433.50 C61.61,432.43 61.86,431.40 62.35,430.30 C62.83,429.20 63.61,428.00 64.25,426.90 C64.88,425.80 65.50,424.75 66.15,423.70 C66.80,422.65 67.35,421.65 68.15,420.60 C68.95,419.55 70.03,418.47 70.95,417.40 C71.86,416.33 72.66,415.27 73.65,414.20 C74.63,413.13 75.78,412.05 76.85,411.00 C77.91,409.95 78.98,408.95 80.05,407.90 C81.11,406.85 82.20,405.77 83.25,404.70 C84.30,403.63 85.50,402.43 86.35,401.50 C87.20,400.57 87.95,399.88 88.35,399.10 C88.75,398.32 88.88,397.58 88.75,396.80 C88.61,396.02 87.95,395.12 87.55,394.40 C87.15,393.68 86.93,393.35 86.35,392.50 C85.76,391.65 84.90,390.35 84.05,389.30 C83.20,388.25 82.25,387.25 81.25,386.20 C80.25,385.15 79.25,384.07 78.05,383.00 C76.85,381.93 75.36,380.87 74.05,379.80 C72.73,378.73 71.11,377.65 70.15,376.60 C69.18,375.55 68.78,374.55 68.25,373.50 C67.71,372.45 67.46,371.37 66.95,370.30 C66.43,369.23 65.81,368.17 65.15,367.10 C64.48,366.03 63.65,364.95 62.95,363.90 C62.25,362.85 61.36,361.78 60.95,360.80 C60.53,359.82 60.56,359.54 60.45,358.00 C60.33,356.46 60.33,353.70 60.25,351.55 C60.16,349.40 60.00,346.18 59.95,345.10 Z" fill="#D9D9D9" stroke="#2a2a2a" stroke-width="1.0" stroke-linejoin="round"/><path d="M129.35,353.00 C129.30,354.08 129.14,357.33 129.05,359.50 C128.97,361.67 128.97,364.38 128.85,366.00 C128.74,367.62 128.62,367.97 128.35,369.20 C128.09,370.43 127.60,372.32 127.25,373.35 C126.90,374.38 126.70,374.71 126.25,375.40 C125.80,376.09 125.15,376.80 124.55,377.50 C123.95,378.20 123.30,378.90 122.65,379.60 C122.00,380.30 121.37,381.00 120.65,381.70 C119.94,382.40 119.27,383.00 118.35,383.80 C117.44,384.60 116.10,385.62 115.15,386.50 C114.20,387.38 113.29,388.27 112.65,389.10 C112.02,389.93 111.67,390.72 111.35,391.50 C111.04,392.28 111.17,393.10 110.75,393.80 C110.34,394.50 109.79,395.08 108.85,395.70 C107.92,396.32 106.37,396.87 105.15,397.50 C103.94,398.13 102.57,398.87 101.55,399.50 C100.54,400.13 99.67,400.38 99.05,401.30 C98.44,402.22 97.62,403.75 97.85,405.00 C98.09,406.25 99.09,407.55 100.45,408.80 C101.82,410.05 104.70,411.47 106.05,412.50 C107.40,413.53 107.72,414.22 108.55,415.00 C109.39,415.78 110.27,416.47 111.05,417.20 C111.84,417.93 112.52,418.55 113.25,419.40 C113.99,420.25 114.84,421.33 115.45,422.30 C116.07,423.27 116.34,424.23 116.95,425.20 C117.57,426.17 118.37,427.12 119.15,428.10 C119.94,429.08 120.87,430.12 121.65,431.10 C122.44,432.08 123.19,433.03 123.85,434.00 C124.52,434.97 125.17,435.93 125.65,436.90 C126.14,437.87 126.39,438.82 126.75,439.80 C127.12,440.78 127.54,441.82 127.85,442.80 C128.17,443.78 128.45,444.44 128.65,445.70 C128.85,446.96 128.94,448.80 129.05,450.35 C129.17,451.90 129.30,454.23 129.35,455.00 L129.35,455.00 C129.40,454.23 129.54,451.90 129.65,450.35 C129.77,448.80 129.85,446.96 130.05,445.70 C130.25,444.44 130.54,443.78 130.85,442.80 C131.17,441.82 131.59,440.78 131.95,439.80 C132.32,438.82 132.57,437.87 133.05,436.90 C133.54,435.93 134.19,434.97 134.85,434.00 C135.52,433.03 136.27,432.08 137.05,431.10 C137.84,430.12 138.77,429.08 139.55,428.10 C140.34,427.12 141.14,426.17 141.75,425.20 C142.37,424.23 142.64,423.27 143.25,422.30 C143.87,421.33 144.72,420.25 145.45,419.40 C146.19,418.55 146.87,417.93 147.65,417.20 C148.44,416.47 149.32,415.78 150.15,415.00 C150.99,414.22 151.30,413.53 152.65,412.50 C154.00,411.47 156.89,410.05 158.25,408.80 C159.62,407.55 160.62,406.25 160.85,405.00 C161.09,403.75 160.27,402.22 159.65,401.30 C159.04,400.38 158.17,400.13 157.15,399.50 C156.14,398.87 154.77,398.13 153.55,397.50 C152.34,396.87 150.79,396.32 149.85,395.70 C148.92,395.08 148.37,394.50 147.95,393.80 C147.54,393.10 147.67,392.28 147.35,391.50 C147.04,390.72 146.69,389.93 146.05,389.10 C145.42,388.27 144.50,387.38 143.55,386.50 C142.60,385.62 141.27,384.60 140.35,383.80 C139.44,383.00 138.77,382.40 138.05,381.70 C137.34,381.00 136.70,380.30 136.05,379.60 C135.40,378.90 134.75,378.20 134.15,377.50 C133.55,376.80 132.90,376.09 132.45,375.40 C132.00,374.71 131.80,374.38 131.45,373.35 C131.10,372.32 130.62,370.43 130.35,369.20 C130.09,367.97 129.97,367.62 129.85,366.00 C129.74,364.38 129.74,361.67 129.65,359.50 C129.57,357.33 129.40,354.08 129.35,353.00 Z" fill="#D9D9D9" stroke="#2a2a2a" stroke-width="1.0" stroke-linejoin="round"/><line x1="59.95" y1="359.60" x2="59.95" y2="388.50" stroke="#3a3a3a" stroke-width="0.8"/><line x1="59.95" y1="408.30" x2="59.95" y2="436.70" stroke="#3a3a3a" stroke-width="0.8"/><rect x="56.75" y="388.50" width="6.39" height="19.80" fill="#fff" stroke="#2a2a2a" stroke-width="0.7"/><line x1="56.75" y1="398.50" x2="63.14" y2="398.50" stroke="#1a1a1a" stroke-width="1.6"/><circle cx="59.95" cy="358.80" r="1.4" fill="#2b2b2b"/><circle cx="59.95" cy="438.30" r="1.4" fill="#2b2b2b"/><circle cx="59.95" cy="446.20" r="1.4" fill="#2b2b2b"/><line x1="129.35" y1="367.00" x2="129.35" y2="396.50" stroke="#3a3a3a" stroke-width="0.8"/><line x1="129.35" y1="415.10" x2="129.35" y2="445.00" stroke="#3a3a3a" stroke-width="0.8"/><rect x="126.16" y="396.50" width="6.39" height="18.60" fill="#fff" stroke="#2a2a2a" stroke-width="0.7"/><line x1="126.16" y1="406.00" x2="132.55" y2="406.00" stroke="#1a1a1a" stroke-width="1.6"/><circle cx="129.35" cy="365.60" r="1.4" fill="#2b2b2b"/><path d="M18.30,340.20 V465.10 H171.00" fill="none" stroke="#2e2e2e" stroke-width="1.15"/><line x1="16.10" y1="342.50" x2="18.30" y2="342.50" stroke="#2e2e2e" stroke-width="1.15"/><text transform="translate(14.50,346.30) scale(1,0.96)" font-size="10.1" fill="#4D4D4D" stroke="#4D4D4D" stroke-width="0.3" text-anchor="end">0.6</text><line x1="16.10" y1="368.50" x2="18.30" y2="368.50" stroke="#2e2e2e" stroke-width="1.15"/><text transform="translate(14.50,372.30) scale(1,0.96)" font-size="10.1" fill="#4D4D4D" stroke="#4D4D4D" stroke-width="0.3" text-anchor="end">0.5</text><line x1="16.10" y1="394.50" x2="18.30" y2="394.50" stroke="#2e2e2e" stroke-width="1.15"/><text transform="translate(14.50,398.30) scale(1,0.96)" font-size="10.1" fill="#4D4D4D" stroke="#4D4D4D" stroke-width="0.3" text-anchor="end">0.4</text><line x1="16.10" y1="420.50" x2="18.30" y2="420.50" stroke="#2e2e2e" stroke-width="1.15"/><text transform="translate(14.50,424.30) scale(1,0.96)" font-size="10.1" fill="#4D4D4D" stroke="#4D4D4D" stroke-width="0.3" text-anchor="end">0.3</text><line x1="16.10" y1="446.50" x2="18.30" y2="446.50" stroke="#2e2e2e" stroke-width="1.15"/><text transform="translate(14.50,450.30) scale(1,0.96)" font-size="10.1" fill="#4D4D4D" stroke="#4D4D4D" stroke-width="0.3" text-anchor="end">0.2</text><line x1="59.95" y1="465.10" x2="59.95" y2="467.30" stroke="#2e2e2e" stroke-width="1.15"/><text x="59.95" y="475.80" font-size="10.1" fill="#4D4D4D" stroke="#4D4D4D" stroke-width="0.3" text-anchor="middle">never</text><line x1="129.35" y1="465.10" x2="129.35" y2="467.30" stroke="#2e2e2e" stroke-width="1.15"/><text x="129.35" y="475.80" font-size="10.1" fill="#4D4D4D" stroke="#4D4D4D" stroke-width="0.3" text-anchor="middle">persistent</text><text x="94.65" y="333.50" font-size="11.5" fill="#000" stroke="#000" stroke-width="0.15" text-anchor="middle">cg22940798</text></g>
<g><path d="M230.58,345.10 C230.53,345.94 230.42,348.47 230.28,350.15 C230.15,351.83 230.12,353.84 229.78,355.20 C229.45,356.56 229.00,357.25 228.28,358.30 C227.57,359.35 226.48,360.43 225.48,361.50 C224.48,362.57 223.35,363.63 222.28,364.70 C221.22,365.77 220.13,366.85 219.08,367.90 C218.03,368.95 216.97,369.95 215.98,371.00 C215.00,372.05 214.05,373.13 213.18,374.20 C212.32,375.27 211.58,376.33 210.78,377.40 C209.98,378.47 209.18,379.55 208.38,380.60 C207.58,381.65 206.70,382.65 205.98,383.70 C205.27,384.75 204.60,385.97 204.08,386.90 C203.57,387.83 203.15,388.68 202.88,389.30 C202.62,389.92 202.47,390.02 202.48,390.60 C202.50,391.18 202.77,391.92 202.98,392.80 C203.20,393.68 203.67,394.85 203.78,395.90 C203.90,396.95 203.77,398.03 203.68,399.10 C203.60,400.17 203.28,401.23 203.28,402.30 C203.28,403.37 203.30,404.45 203.68,405.50 C204.07,406.55 204.67,407.55 205.58,408.60 C206.50,409.65 207.98,410.73 209.18,411.80 C210.38,412.87 211.72,413.93 212.78,415.00 C213.85,416.07 214.62,417.10 215.58,418.20 C216.55,419.30 217.70,420.52 218.58,421.60 C219.47,422.68 220.18,423.68 220.88,424.70 C221.58,425.72 222.30,426.73 222.78,427.70 C223.27,428.67 223.43,429.55 223.78,430.50 C224.13,431.45 224.47,432.45 224.88,433.40 C225.30,434.35 225.75,435.27 226.28,436.20 C226.82,437.13 227.58,438.05 228.08,439.00 C228.58,439.95 228.97,440.95 229.28,441.90 C229.60,442.85 229.82,443.55 229.98,444.70 C230.15,445.85 230.18,447.43 230.28,448.80 C230.38,450.17 230.53,452.22 230.58,452.90 L230.58,452.90 C230.63,452.22 230.78,450.17 230.88,448.80 C230.98,447.43 231.02,445.85 231.18,444.70 C231.35,443.55 231.57,442.85 231.88,441.90 C232.20,440.95 232.58,439.95 233.08,439.00 C233.58,438.05 234.35,437.13 234.88,436.20 C235.42,435.27 235.87,434.35 236.28,433.40 C236.70,432.45 237.03,431.45 237.38,430.50 C237.73,429.55 237.90,428.67 238.38,427.70 C238.87,426.73 239.58,425.72 240.28,424.70 C240.98,423.68 241.70,422.68 242.58,421.60 C243.47,420.52 244.62,419.30 245.58,418.20 C246.55,417.10 247.32,416.07 248.38,415.00 C249.45,413.93 250.78,412.87 251.98,411.80 C253.18,410.73 254.67,409.65 255.58,408.60 C256.50,407.55 257.10,406.55 257.48,405.50 C257.87,404.45 257.88,403.37 257.88,402.30 C257.88,401.23 257.57,400.17 257.48,399.10 C257.40,398.03 257.27,396.95 257.38,395.90 C257.50,394.85 257.97,393.68 258.18,392.80 C258.40,391.92 258.67,391.18 258.68,390.60 C258.70,390.02 258.55,389.92 258.28,389.30 C258.02,388.68 257.60,387.83 257.08,386.90 C256.57,385.97 255.90,384.75 255.18,383.70 C254.47,382.65 253.58,381.65 252.78,380.60 C251.98,379.55 251.18,378.47 250.38,377.40 C249.58,376.33 248.85,375.27 247.98,374.20 C247.12,373.13 246.17,372.05 245.18,371.00 C244.20,369.95 243.13,368.95 242.08,367.90 C241.03,366.85 239.95,365.77 238.88,364.70 C237.82,363.63 236.68,362.57 235.68,361.50 C234.68,360.43 233.60,359.35 232.88,358.30 C232.17,357.25 231.72,356.56 231.38,355.20 C231.05,353.84 231.02,351.83 230.88,350.15 C230.75,348.47 230.63,345.94 230.58,345.10 Z" fill="#BC80BD" stroke="#2a2a2a" stroke-width="1.0" stroke-linejoin="round"/><path d="M300.32,347.00 C300.27,347.73 300.12,349.93 300.02,351.40 C299.92,352.87 299.80,354.67 299.72,355.80 C299.63,356.93 299.70,357.28 299.52,358.20 C299.33,359.12 298.97,360.25 298.62,361.30 C298.27,362.35 297.82,363.43 297.42,364.50 C297.02,365.57 296.62,366.63 296.22,367.70 C295.82,368.77 295.38,369.85 295.02,370.90 C294.65,371.95 294.32,372.95 294.02,374.00 C293.72,375.05 293.65,376.13 293.22,377.20 C292.78,378.27 292.30,379.33 291.42,380.40 C290.53,381.47 289.10,382.55 287.92,383.60 C286.73,384.65 285.45,385.65 284.32,386.70 C283.18,387.75 281.95,388.95 281.12,389.90 C280.28,390.85 279.98,391.58 279.32,392.40 C278.65,393.22 277.88,393.88 277.12,394.80 C276.35,395.72 275.45,396.85 274.72,397.90 C273.98,398.95 273.30,400.03 272.72,401.10 C272.13,402.17 271.70,403.23 271.22,404.30 C270.73,405.37 270.18,406.45 269.82,407.50 C269.45,408.55 269.10,409.55 269.02,410.60 C268.93,411.65 268.95,412.73 269.32,413.80 C269.68,414.87 270.52,415.93 271.22,417.00 C271.92,418.07 272.60,419.15 273.52,420.20 C274.43,421.25 275.55,422.20 276.72,423.30 C277.88,424.40 279.05,425.63 280.52,426.80 C281.98,427.97 284.02,429.18 285.52,430.30 C287.02,431.42 288.25,432.43 289.52,433.50 C290.78,434.57 292.07,435.63 293.12,436.70 C294.17,437.77 295.03,438.85 295.82,439.90 C296.60,440.95 297.28,441.95 297.82,443.00 C298.35,444.05 298.70,445.13 299.02,446.20 C299.33,447.27 299.55,448.01 299.72,449.40 C299.88,450.79 299.92,452.83 300.02,454.55 C300.12,456.27 300.27,458.84 300.32,459.70 L300.32,459.70 C300.37,458.84 300.52,456.27 300.62,454.55 C300.72,452.83 300.75,450.79 300.92,449.40 C301.08,448.01 301.30,447.27 301.62,446.20 C301.93,445.13 302.28,444.05 302.82,443.00 C303.35,441.95 304.03,440.95 304.82,439.90 C305.60,438.85 306.47,437.77 307.52,436.70 C308.57,435.63 309.85,434.57 311.12,433.50 C312.38,432.43 313.62,431.42 315.12,430.30 C316.62,429.18 318.65,427.97 320.12,426.80 C321.58,425.63 322.75,424.40 323.92,423.30 C325.08,422.20 326.20,421.25 327.12,420.20 C328.03,419.15 328.72,418.07 329.42,417.00 C330.12,415.93 330.95,414.87 331.32,413.80 C331.68,412.73 331.70,411.65 331.62,410.60 C331.53,409.55 331.18,408.55 330.82,407.50 C330.45,406.45 329.90,405.37 329.42,404.30 C328.93,403.23 328.50,402.17 327.92,401.10 C327.33,400.03 326.65,398.95 325.92,397.90 C325.18,396.85 324.28,395.72 323.52,394.80 C322.75,393.88 321.98,393.22 321.32,392.40 C320.65,391.58 320.35,390.85 319.52,389.90 C318.68,388.95 317.45,387.75 316.32,386.70 C315.18,385.65 313.90,384.65 312.72,383.60 C311.53,382.55 310.10,381.47 309.22,380.40 C308.33,379.33 307.85,378.27 307.42,377.20 C306.98,376.13 306.92,375.05 306.62,374.00 C306.32,372.95 305.98,371.95 305.62,370.90 C305.25,369.85 304.82,368.77 304.42,367.70 C304.02,366.63 303.62,365.57 303.22,364.50 C302.82,363.43 302.37,362.35 302.02,361.30 C301.67,360.25 301.30,359.12 301.12,358.20 C300.93,357.28 301.00,356.93 300.92,355.80 C300.83,354.67 300.72,352.87 300.62,351.40 C300.52,349.93 300.37,347.73 300.32,347.00 Z" fill="#BC80BD" stroke="#2a2a2a" stroke-width="1.0" stroke-linejoin="round"/><line x1="230.58" y1="361.10" x2="230.58" y2="384.50" stroke="#3a3a3a" stroke-width="0.8"/><line x1="230.58" y1="408.50" x2="230.58" y2="436.90" stroke="#3a3a3a" stroke-width="0.8"/><rect x="227.38" y="384.50" width="6.41" height="24.00" fill="#fff" stroke="#2a2a2a" stroke-width="0.7"/><line x1="227.38" y1="395.50" x2="233.79" y2="395.50" stroke="#1a1a1a" stroke-width="1.6"/><line x1="300.32" y1="357.00" x2="300.32" y2="396.50" stroke="#3a3a3a" stroke-width="0.8"/><line x1="300.32" y1="419.80" x2="300.32" y2="446.20" stroke="#3a3a3a" stroke-width="0.8"/><rect x="297.11" y="396.50" width="6.41" height="23.30" fill="#fff" stroke="#2a2a2a" stroke-width="0.7"/><line x1="297.11" y1="409.30" x2="303.52" y2="409.30" stroke="#1a1a1a" stroke-width="1.6"/><path d="M188.90,340.20 V465.10 H342.10" fill="none" stroke="#2e2e2e" stroke-width="1.15"/><line x1="186.70" y1="354.30" x2="188.90" y2="354.30" stroke="#2e2e2e" stroke-width="1.15"/><text transform="translate(185.10,358.10) scale(1,0.96)" font-size="10.1" fill="#4D4D4D" stroke="#4D4D4D" stroke-width="0.3" text-anchor="end">0.6</text><line x1="186.70" y1="390.37" x2="188.90" y2="390.37" stroke="#2e2e2e" stroke-width="1.15"/><text transform="translate(185.10,394.17) scale(1,0.96)" font-size="10.1" fill="#4D4D4D" stroke="#4D4D4D" stroke-width="0.3" text-anchor="end">0.4</text><line x1="186.70" y1="426.43" x2="188.90" y2="426.43" stroke="#2e2e2e" stroke-width="1.15"/><text transform="translate(185.10,430.23) scale(1,0.96)" font-size="10.1" fill="#4D4D4D" stroke="#4D4D4D" stroke-width="0.3" text-anchor="end">0.2</text><line x1="186.70" y1="462.50" x2="188.90" y2="462.50" stroke="#2e2e2e" stroke-width="1.15"/><text transform="translate(185.10,466.30) scale(1,0.96)" font-size="10.1" fill="#4D4D4D" stroke="#4D4D4D" stroke-width="0.3" text-anchor="end">0.0</text><line x1="230.68" y1="465.10" x2="230.68" y2="467.30" stroke="#2e2e2e" stroke-width="1.15"/><text x="230.68" y="475.80" font-size="10.1" fill="#4D4D4D" stroke="#4D4D4D" stroke-width="0.3" text-anchor="middle">never</text><line x1="300.32" y1="465.10" x2="300.32" y2="467.30" stroke="#2e2e2e" stroke-width="1.15"/><text x="300.32" y="475.80" font-size="10.1" fill="#4D4D4D" stroke="#4D4D4D" stroke-width="0.3" text-anchor="middle">persistent</text><text x="265.50" y="333.50" font-size="11.5" fill="#000" stroke="#000" stroke-width="0.15" text-anchor="middle">cg08818207</text></g>
<g><path d="M401.51,345.10 C401.46,345.81 401.29,347.93 401.21,349.35 C401.13,350.77 401.18,352.49 401.01,353.60 C400.84,354.71 400.68,355.22 400.21,356.00 C399.74,356.78 399.14,357.52 398.21,358.30 C397.28,359.08 395.94,359.90 394.61,360.70 C393.28,361.50 391.66,362.30 390.21,363.10 C388.76,363.90 387.29,364.70 385.91,365.50 C384.53,366.30 383.18,367.10 381.91,367.90 C380.64,368.70 379.36,369.52 378.31,370.30 C377.26,371.08 376.36,371.82 375.61,372.60 C374.86,373.38 374.21,374.20 373.81,375.00 C373.41,375.80 373.24,376.60 373.21,377.40 C373.18,378.20 373.34,379.00 373.61,379.80 C373.88,380.60 374.16,381.28 374.81,382.20 C375.46,383.12 376.59,384.25 377.51,385.30 C378.43,386.35 379.43,387.52 380.31,388.50 C381.19,389.48 381.99,390.23 382.81,391.20 C383.63,392.17 384.53,393.25 385.21,394.30 C385.89,395.35 386.44,396.43 386.91,397.50 C387.38,398.57 387.53,399.63 388.01,400.70 C388.49,401.77 389.14,402.85 389.81,403.90 C390.48,404.95 391.24,405.95 392.01,407.00 C392.78,408.05 393.66,409.13 394.41,410.20 C395.16,411.27 395.96,412.33 396.51,413.40 C397.06,414.47 397.39,415.55 397.71,416.60 C398.03,417.65 398.21,418.65 398.41,419.70 C398.61,420.75 398.79,422.00 398.91,422.90 C399.03,423.80 399.03,423.90 399.11,425.10 C399.19,426.30 399.30,428.43 399.41,430.10 C399.52,431.77 399.59,433.43 399.76,435.10 C399.93,436.77 400.22,438.43 400.41,440.10 C400.60,441.77 400.78,443.63 400.91,445.10 C401.04,446.57 401.11,447.63 401.21,448.90 C401.31,450.17 401.46,452.07 401.51,452.70 L401.51,452.70 C401.56,452.07 401.71,450.17 401.81,448.90 C401.91,447.63 401.98,446.57 402.11,445.10 C402.24,443.63 402.42,441.77 402.61,440.10 C402.80,438.43 403.09,436.77 403.26,435.10 C403.43,433.43 403.50,431.77 403.61,430.10 C403.72,428.43 403.83,426.30 403.91,425.10 C403.99,423.90 403.99,423.80 404.11,422.90 C404.23,422.00 404.41,420.75 404.61,419.70 C404.81,418.65 404.99,417.65 405.31,416.60 C405.63,415.55 405.96,414.47 406.51,413.40 C407.06,412.33 407.86,411.27 408.61,410.20 C409.36,409.13 410.24,408.05 411.01,407.00 C411.78,405.95 412.54,404.95 413.21,403.90 C413.88,402.85 414.53,401.77 415.01,400.70 C415.49,399.63 415.64,398.57 416.11,397.50 C416.58,396.43 417.13,395.35 417.81,394.30 C418.49,393.25 419.39,392.17 420.21,391.20 C421.03,390.23 421.83,389.48 422.71,388.50 C423.59,387.52 424.59,386.35 425.51,385.30 C426.43,384.25 427.56,383.12 428.21,382.20 C428.86,381.28 429.14,380.60 429.41,379.80 C429.68,379.00 429.84,378.20 429.81,377.40 C429.78,376.60 429.61,375.80 429.21,375.00 C428.81,374.20 428.16,373.38 427.41,372.60 C426.66,371.82 425.76,371.08 424.71,370.30 C423.66,369.52 422.38,368.70 421.11,367.90 C419.84,367.10 418.49,366.30 417.11,365.50 C415.73,364.70 414.26,363.90 412.81,363.10 C411.36,362.30 409.74,361.50 408.41,360.70 C407.08,359.90 405.74,359.08 404.81,358.30 C403.88,357.52 403.28,356.78 402.81,356.00 C402.34,355.22 402.18,354.71 402.01,353.60 C401.84,352.49 401.89,350.77 401.81,349.35 C401.73,347.93 401.56,345.81 401.51,345.10 Z" fill="#CFE9C5" stroke="#2a2a2a" stroke-width="1.0" stroke-linejoin="round"/><path d="M471.19,347.00 C471.14,347.55 470.97,349.20 470.89,350.30 C470.81,351.40 470.91,352.65 470.69,353.60 C470.47,354.55 470.17,355.22 469.59,356.00 C469.01,356.78 468.32,357.52 467.19,358.30 C466.06,359.08 464.37,359.90 462.79,360.70 C461.21,361.50 459.41,362.30 457.69,363.10 C455.97,363.90 454.16,364.70 452.49,365.50 C450.82,366.30 449.14,367.10 447.69,367.90 C446.24,368.70 444.91,369.52 443.79,370.30 C442.67,371.08 441.66,371.82 440.99,372.60 C440.32,373.38 439.86,374.20 439.79,375.00 C439.72,375.80 440.12,376.60 440.59,377.40 C441.06,378.20 441.86,379.00 442.59,379.80 C443.32,380.60 444.01,381.28 444.99,382.20 C445.97,383.12 447.41,384.28 448.49,385.30 C449.57,386.32 450.69,387.32 451.49,388.30 C452.29,389.28 452.62,390.20 453.29,391.20 C453.96,392.20 454.79,393.25 455.49,394.30 C456.19,395.35 456.79,396.43 457.49,397.50 C458.19,398.57 458.96,399.63 459.69,400.70 C460.42,401.77 461.14,402.85 461.89,403.90 C462.64,404.95 463.49,405.95 464.19,407.00 C464.89,408.05 465.56,409.13 466.09,410.20 C466.62,411.27 466.99,412.33 467.39,413.40 C467.79,414.47 468.12,415.55 468.49,416.60 C468.86,417.65 469.31,418.70 469.59,419.70 C469.87,420.70 470.02,421.38 470.19,422.60 C470.36,423.82 470.51,422.43 470.59,427.00 C470.67,431.57 470.64,445.43 470.69,450.00 C470.74,454.57 470.81,452.97 470.89,454.45 C470.97,455.93 471.14,458.16 471.19,458.90 L471.19,458.90 C471.24,458.16 471.41,455.93 471.49,454.45 C471.57,452.97 471.64,454.57 471.69,450.00 C471.74,445.43 471.71,431.57 471.79,427.00 C471.87,422.43 472.02,423.82 472.19,422.60 C472.36,421.38 472.51,420.70 472.79,419.70 C473.07,418.70 473.52,417.65 473.89,416.60 C474.26,415.55 474.59,414.47 474.99,413.40 C475.39,412.33 475.76,411.27 476.29,410.20 C476.82,409.13 477.49,408.05 478.19,407.00 C478.89,405.95 479.74,404.95 480.49,403.90 C481.24,402.85 481.96,401.77 482.69,400.70 C483.42,399.63 484.19,398.57 484.89,397.50 C485.59,396.43 486.19,395.35 486.89,394.30 C487.59,393.25 488.42,392.20 489.09,391.20 C489.76,390.20 490.09,389.28 490.89,388.30 C491.69,387.32 492.81,386.32 493.89,385.30 C494.97,384.28 496.41,383.12 497.39,382.20 C498.37,381.28 499.06,380.60 499.79,379.80 C500.52,379.00 501.32,378.20 501.79,377.40 C502.26,376.60 502.66,375.80 502.59,375.00 C502.52,374.20 502.06,373.38 501.39,372.60 C500.72,371.82 499.71,371.08 498.59,370.30 C497.47,369.52 496.14,368.70 494.69,367.90 C493.24,367.10 491.56,366.30 489.89,365.50 C488.22,364.70 486.41,363.90 484.69,363.10 C482.97,362.30 481.17,361.50 479.59,360.70 C478.01,359.90 476.32,359.08 475.19,358.30 C474.06,357.52 473.37,356.78 472.79,356.00 C472.21,355.22 471.91,354.55 471.69,353.60 C471.47,352.65 471.57,351.40 471.49,350.30 C471.41,349.20 471.24,347.55 471.19,347.00 Z" fill="#CFE9C5" stroke="#2a2a2a" stroke-width="1.0" stroke-linejoin="round"/><line x1="401.51" y1="357.00" x2="401.51" y2="375.40" stroke="#3a3a3a" stroke-width="0.8"/><line x1="401.51" y1="397.50" x2="401.51" y2="430.00" stroke="#3a3a3a" stroke-width="0.8"/><rect x="398.30" y="375.40" width="6.41" height="22.10" fill="#fff" stroke="#2a2a2a" stroke-width="0.7"/><line x1="398.30" y1="384.10" x2="404.71" y2="384.10" stroke="#1a1a1a" stroke-width="1.6"/><line x1="401.51" y1="431.50" x2="401.51" y2="438.00" stroke="#2b2b2b" stroke-width="3.00" stroke-linecap="round"/><line x1="471.19" y1="355.80" x2="471.19" y2="373.40" stroke="#3a3a3a" stroke-width="0.8"/><line x1="471.19" y1="391.80" x2="471.19" y2="419.50" stroke="#3a3a3a" stroke-width="0.8"/><rect x="467.99" y="373.40" width="6.41" height="18.40" fill="#fff" stroke="#2a2a2a" stroke-width="0.7"/><line x1="467.99" y1="380.20" x2="474.40" y2="380.20" stroke="#1a1a1a" stroke-width="1.6"/><line x1="471.19" y1="422.80" x2="471.19" y2="426.00" stroke="#2b2b2b" stroke-width="3.00" stroke-linecap="round"/><circle cx="471.19" cy="431.10" r="1.4" fill="#2b2b2b"/><circle cx="471.19" cy="447.40" r="1.4" fill="#2b2b2b"/><path d="M359.70,340.20 V465.10 H513.00" fill="none" stroke="#2e2e2e" stroke-width="1.15"/><line x1="357.50" y1="360.40" x2="359.70" y2="360.40" stroke="#2e2e2e" stroke-width="1.15"/><text transform="translate(355.90,364.20) scale(1,0.96)" font-size="10.1" fill="#4D4D4D" stroke="#4D4D4D" stroke-width="0.3" text-anchor="end">0.9</text><line x1="357.50" y1="391.07" x2="359.70" y2="391.07" stroke="#2e2e2e" stroke-width="1.15"/><text transform="translate(355.90,394.87) scale(1,0.96)" font-size="10.1" fill="#4D4D4D" stroke="#4D4D4D" stroke-width="0.3" text-anchor="end">0.8</text><line x1="357.50" y1="421.73" x2="359.70" y2="421.73" stroke="#2e2e2e" stroke-width="1.15"/><text transform="translate(355.90,425.53) scale(1,0.96)" font-size="10.1" fill="#4D4D4D" stroke="#4D4D4D" stroke-width="0.3" text-anchor="end">0.7</text><line x1="357.50" y1="452.40" x2="359.70" y2="452.40" stroke="#2e2e2e" stroke-width="1.15"/><text transform="translate(355.90,456.20) scale(1,0.96)" font-size="10.1" fill="#4D4D4D" stroke="#4D4D4D" stroke-width="0.3" text-anchor="end">0.6</text><line x1="401.51" y1="465.10" x2="401.51" y2="467.30" stroke="#2e2e2e" stroke-width="1.15"/><text x="401.51" y="475.80" font-size="10.1" fill="#4D4D4D" stroke="#4D4D4D" stroke-width="0.3" text-anchor="middle">never</text><line x1="471.19" y1="465.10" x2="471.19" y2="467.30" stroke="#2e2e2e" stroke-width="1.15"/><text x="471.19" y="475.80" font-size="10.1" fill="#4D4D4D" stroke="#4D4D4D" stroke-width="0.3" text-anchor="middle">persistent</text><text x="436.35" y="333.50" font-size="11.5" fill="#000" stroke="#000" stroke-width="0.15" text-anchor="middle">cg22917487</text></g>
<g><path d="M572.24,345.10 C572.19,346.93 572.04,352.43 571.94,356.10 C571.84,359.77 571.71,364.02 571.64,367.10 C571.56,370.18 571.62,372.73 571.49,374.60 C571.35,376.47 570.99,377.40 570.84,378.30 C570.68,379.20 570.62,379.43 570.54,380.00 C570.45,380.57 570.50,381.17 570.34,381.75 C570.17,382.33 569.90,382.91 569.54,383.50 C569.17,384.09 568.72,384.72 568.14,385.30 C567.55,385.88 566.80,386.42 566.04,387.00 C565.27,387.58 564.42,388.22 563.54,388.80 C562.65,389.38 561.60,389.92 560.74,390.50 C559.87,391.08 559.09,391.72 558.34,392.30 C557.59,392.88 556.89,393.47 556.24,394.00 C555.59,394.53 555.40,394.92 554.44,395.50 C553.47,396.08 551.64,396.93 550.44,397.50 C549.24,398.07 548.37,398.33 547.24,398.90 C546.10,399.47 544.55,400.28 543.64,400.90 C542.72,401.52 542.22,401.97 541.74,402.60 C541.25,403.23 540.89,404.07 540.74,404.70 C540.59,405.33 540.72,405.93 540.84,406.40 C540.95,406.87 541.12,407.10 541.44,407.50 C541.75,407.90 541.94,408.20 542.74,408.80 C543.54,409.40 545.12,410.32 546.24,411.10 C547.35,411.88 548.57,412.70 549.44,413.50 C550.30,414.30 550.70,415.10 551.44,415.90 C552.17,416.70 552.84,417.50 553.84,418.30 C554.84,419.10 556.19,419.92 557.44,420.70 C558.69,421.48 560.15,422.22 561.34,423.00 C562.52,423.78 563.54,424.60 564.54,425.40 C565.54,426.20 566.47,427.00 567.34,427.80 C568.20,428.60 569.14,429.40 569.74,430.20 C570.34,431.00 570.60,431.80 570.94,432.60 C571.27,433.40 571.57,434.07 571.74,435.00 C571.90,435.93 571.85,437.10 571.94,438.15 C572.02,439.20 572.19,440.77 572.24,441.30 L572.24,441.30 C572.29,440.77 572.45,439.20 572.54,438.15 C572.62,437.10 572.57,435.93 572.74,435.00 C572.90,434.07 573.20,433.40 573.54,432.60 C573.87,431.80 574.14,431.00 574.74,430.20 C575.34,429.40 576.27,428.60 577.14,427.80 C578.00,427.00 578.94,426.20 579.94,425.40 C580.94,424.60 581.95,423.78 583.14,423.00 C584.32,422.22 585.79,421.48 587.04,420.70 C588.29,419.92 589.64,419.10 590.64,418.30 C591.64,417.50 592.30,416.70 593.04,415.90 C593.77,415.10 594.17,414.30 595.04,413.50 C595.90,412.70 597.12,411.88 598.24,411.10 C599.35,410.32 600.94,409.40 601.74,408.80 C602.54,408.20 602.72,407.90 603.04,407.50 C603.35,407.10 603.52,406.87 603.64,406.40 C603.75,405.93 603.89,405.33 603.74,404.70 C603.59,404.07 603.22,403.23 602.74,402.60 C602.25,401.97 601.75,401.52 600.84,400.90 C599.92,400.28 598.37,399.47 597.24,398.90 C596.10,398.33 595.24,398.07 594.04,397.50 C592.84,396.93 591.00,396.08 590.04,395.50 C589.07,394.92 588.89,394.53 588.24,394.00 C587.59,393.47 586.89,392.88 586.14,392.30 C585.39,391.72 584.60,391.08 583.74,390.50 C582.87,389.92 581.82,389.38 580.94,388.80 C580.05,388.22 579.20,387.58 578.44,387.00 C577.67,386.42 576.92,385.88 576.34,385.30 C575.75,384.72 575.30,384.09 574.94,383.50 C574.57,382.91 574.30,382.33 574.14,381.75 C573.97,381.17 574.02,380.57 573.94,380.00 C573.85,379.43 573.79,379.20 573.64,378.30 C573.48,377.40 573.12,376.47 572.99,374.60 C572.85,372.73 572.91,370.18 572.84,367.10 C572.76,364.02 572.64,359.77 572.54,356.10 C572.44,352.43 572.29,346.93 572.24,345.10 Z" fill="#F9E872" stroke="#2a2a2a" stroke-width="1.0" stroke-linejoin="round"/><path d="M641.96,364.00 C641.91,364.67 641.75,366.67 641.66,368.00 C641.58,369.33 641.60,370.53 641.46,372.00 C641.33,373.47 641.13,375.48 640.86,376.80 C640.60,378.12 640.26,378.85 639.86,379.90 C639.46,380.95 639.06,382.03 638.46,383.10 C637.86,384.17 637.23,385.23 636.26,386.30 C635.30,387.37 634.11,388.45 632.66,389.50 C631.21,390.55 629.21,391.55 627.56,392.60 C625.91,393.65 624.16,394.73 622.76,395.80 C621.36,396.87 620.23,397.93 619.16,399.00 C618.10,400.07 617.15,401.15 616.36,402.20 C615.58,403.25 614.96,404.27 614.46,405.30 C613.96,406.33 613.36,407.48 613.36,408.40 C613.36,409.32 613.70,409.88 614.46,410.80 C615.23,411.72 616.91,412.85 617.96,413.90 C619.01,414.95 619.70,416.03 620.76,417.10 C621.83,418.17 622.98,419.23 624.36,420.30 C625.75,421.37 627.61,422.45 629.06,423.50 C630.51,424.55 632.00,425.55 633.06,426.60 C634.13,427.65 634.80,428.73 635.46,429.80 C636.13,430.87 636.53,431.93 637.06,433.00 C637.60,434.07 638.16,435.15 638.66,436.20 C639.16,437.25 639.66,438.25 640.06,439.30 C640.46,440.35 640.83,441.38 641.06,442.50 C641.30,443.62 641.36,444.29 641.46,446.00 C641.56,447.71 641.58,450.50 641.66,452.75 C641.75,455.00 641.91,458.38 641.96,459.50 L641.96,459.50 C642.01,458.38 642.18,455.00 642.26,452.75 C642.35,450.50 642.36,447.71 642.46,446.00 C642.56,444.29 642.63,443.62 642.86,442.50 C643.10,441.38 643.46,440.35 643.86,439.30 C644.26,438.25 644.76,437.25 645.26,436.20 C645.76,435.15 646.33,434.07 646.86,433.00 C647.40,431.93 647.80,430.87 648.46,429.80 C649.13,428.73 649.80,427.65 650.86,426.60 C651.93,425.55 653.41,424.55 654.86,423.50 C656.31,422.45 658.18,421.37 659.56,420.30 C660.95,419.23 662.10,418.17 663.16,417.10 C664.23,416.03 664.91,414.95 665.96,413.90 C667.01,412.85 668.70,411.72 669.46,410.80 C670.23,409.88 670.56,409.32 670.56,408.40 C670.56,407.48 669.96,406.33 669.46,405.30 C668.96,404.27 668.35,403.25 667.56,402.20 C666.78,401.15 665.83,400.07 664.76,399.00 C663.70,397.93 662.56,396.87 661.16,395.80 C659.76,394.73 658.01,393.65 656.36,392.60 C654.71,391.55 652.71,390.55 651.26,389.50 C649.81,388.45 648.63,387.37 647.66,386.30 C646.70,385.23 646.06,384.17 645.46,383.10 C644.86,382.03 644.46,380.95 644.06,379.90 C643.66,378.85 643.33,378.12 643.06,376.80 C642.80,375.48 642.60,373.47 642.46,372.00 C642.33,370.53 642.35,369.33 642.26,368.00 C642.18,366.67 642.01,364.67 641.96,364.00 Z" fill="#F9E872" stroke="#2a2a2a" stroke-width="1.0" stroke-linejoin="round"/><line x1="572.24" y1="377.70" x2="572.24" y2="400.40" stroke="#3a3a3a" stroke-width="0.8"/><line x1="572.24" y1="415.10" x2="572.24" y2="432.60" stroke="#3a3a3a" stroke-width="0.8"/><rect x="569.03" y="400.40" width="6.41" height="14.70" fill="#fff" stroke="#2a2a2a" stroke-width="0.7"/><line x1="569.03" y1="406.95" x2="575.44" y2="406.95" stroke="#1a1a1a" stroke-width="1.6"/><circle cx="572.24" cy="355.20" r="1.4" fill="#2b2b2b"/><line x1="572.24" y1="370.00" x2="572.24" y2="372.80" stroke="#2b2b2b" stroke-width="3.00" stroke-linecap="round"/><circle cx="572.24" cy="376.50" r="1.4" fill="#2b2b2b"/><line x1="641.96" y1="377.00" x2="641.96" y2="401.50" stroke="#3a3a3a" stroke-width="0.8"/><line x1="641.96" y1="418.30" x2="641.96" y2="442.60" stroke="#3a3a3a" stroke-width="0.8"/><rect x="638.76" y="401.50" width="6.41" height="16.80" fill="#fff" stroke="#2a2a2a" stroke-width="0.7"/><line x1="638.76" y1="409.30" x2="645.17" y2="409.30" stroke="#1a1a1a" stroke-width="1.6"/><circle cx="641.96" cy="374.80" r="1.4" fill="#2b2b2b"/><circle cx="641.96" cy="444.90" r="1.4" fill="#2b2b2b"/><circle cx="641.96" cy="448.30" r="1.4" fill="#2b2b2b"/><path d="M530.40,340.20 V465.10 H683.80" fill="none" stroke="#2e2e2e" stroke-width="1.15"/><line x1="528.20" y1="367.90" x2="530.40" y2="367.90" stroke="#2e2e2e" stroke-width="1.15"/><text transform="translate(526.60,371.70) scale(1,0.96)" font-size="10.1" fill="#4D4D4D" stroke="#4D4D4D" stroke-width="0.3" text-anchor="end">0.4</text><line x1="528.20" y1="396.97" x2="530.40" y2="396.97" stroke="#2e2e2e" stroke-width="1.15"/><text transform="translate(526.60,400.77) scale(1,0.96)" font-size="10.1" fill="#4D4D4D" stroke="#4D4D4D" stroke-width="0.3" text-anchor="end">0.3</text><line x1="528.20" y1="426.03" x2="530.40" y2="426.03" stroke="#2e2e2e" stroke-width="1.15"/><text transform="translate(526.60,429.83) scale(1,0.96)" font-size="10.1" fill="#4D4D4D" stroke="#4D4D4D" stroke-width="0.3" text-anchor="end">0.2</text><line x1="528.20" y1="455.10" x2="530.40" y2="455.10" stroke="#2e2e2e" stroke-width="1.15"/><text transform="translate(526.60,458.90) scale(1,0.96)" font-size="10.1" fill="#4D4D4D" stroke="#4D4D4D" stroke-width="0.3" text-anchor="end">0.1</text><line x1="572.24" y1="465.10" x2="572.24" y2="467.30" stroke="#2e2e2e" stroke-width="1.15"/><text x="572.24" y="475.80" font-size="10.1" fill="#4D4D4D" stroke="#4D4D4D" stroke-width="0.3" text-anchor="middle">never</text><line x1="641.96" y1="465.10" x2="641.96" y2="467.30" stroke="#2e2e2e" stroke-width="1.15"/><text x="641.96" y="475.80" font-size="10.1" fill="#4D4D4D" stroke="#4D4D4D" stroke-width="0.3" text-anchor="middle">persistent</text><text x="607.10" y="333.50" font-size="11.5" fill="#000" stroke="#000" stroke-width="0.15" text-anchor="middle">cg26396492</text></g>
</svg></body></html>
